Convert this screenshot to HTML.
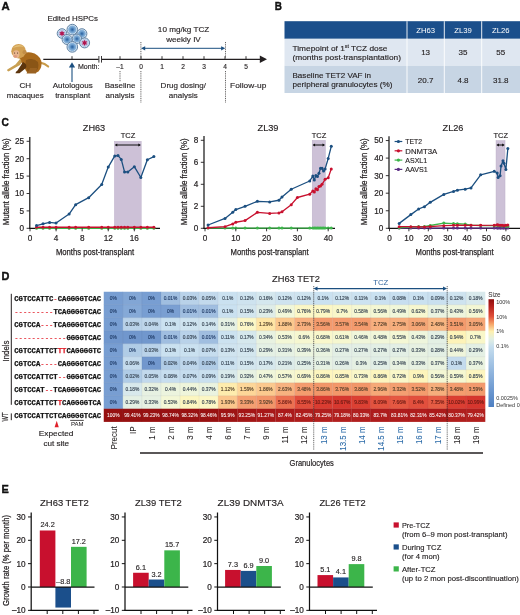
<!DOCTYPE html>
<html lang="en">
<head>
<meta charset="utf-8">
<title>TCZ in CH macaques</title>
<style>
html,body{margin:0;padding:0;background:#fff;}
body{width:520px;height:615px;overflow:hidden;}
svg{display:block;font-family:"Liberation Sans", sans-serif;}
.tw{fill:#fff;stroke:#fff;stroke-width:0.05px}
.tr{fill:#6a1a14;stroke:#6a1a14}
.to{fill:#4e3c28;stroke:#4e3c28}
.tg{fill:#33404f;stroke:#33404f}
.tb{fill:#1f3a66;stroke:#1f3a66}
</style>
</head>
<body>
<svg width="520" height="615" viewBox="0 0 520 615">
<rect width="520" height="615" fill="#fff"/>
<g id="panel-a">
<text x="1.60" y="10.10" font-size="11.4" fill="#111" stroke="#111" stroke-width="0.4" font-weight="bold" textLength="8.2" lengthAdjust="spacingAndGlyphs" >A</text>
<text x="72.70" y="21.30" font-size="8" fill="#231f20" stroke="#231f20" stroke-width="0.14" text-anchor="middle" textLength="50.5" lengthAdjust="spacingAndGlyphs" >Edited HSPCs</text>
<defs>
<radialGradient id="cg"><stop offset="0" stop-color="#2d5f98"/><stop offset="0.2" stop-color="#4279b3"/><stop offset="0.45" stop-color="#6fa0cf"/><stop offset="0.7" stop-color="#8ab4db"/><stop offset="0.82" stop-color="#c9deef"/><stop offset="1" stop-color="#d3e4f2"/></radialGradient>
<radialGradient id="cm"><stop offset="0" stop-color="#c9a0c0"/><stop offset="0.5" stop-color="#c4bcdc"/><stop offset="0.75" stop-color="#b4cfea"/><stop offset="0.85" stop-color="#d3e4f2"/><stop offset="1" stop-color="#d3e4f2"/></radialGradient>
<filter id="soft" x="-10%" y="-10%" width="120%" height="120%"><feGaussianBlur stdDeviation="0.35"/></filter>
</defs>
<g filter="url(#soft)">
<circle cx="72.3" cy="29.6" r="5.3" fill="url(#cg)" stroke="#55779b" stroke-width="0.9"/>
<circle cx="62" cy="33.5" r="4.8" fill="url(#cm)" stroke="#55779b" stroke-width="0.9"/>
<polygon points="62.00,30.40 62.75,32.20 64.68,31.95 63.50,33.50 64.68,35.05 62.75,34.80 62.00,36.60 61.25,34.80 59.32,35.05 60.50,33.50 59.32,31.95 61.25,32.20" fill="#b0124e" />
<circle cx="81.9" cy="33.7" r="5" fill="url(#cg)" stroke="#55779b" stroke-width="0.9"/>
<circle cx="67.1" cy="39.5" r="5" fill="url(#cg)" stroke="#55779b" stroke-width="0.9"/>
<circle cx="76.9" cy="38.8" r="4.7" fill="url(#cg)" stroke="#55779b" stroke-width="0.9"/>
<circle cx="84.6" cy="42.9" r="5" fill="url(#cm)" stroke="#55779b" stroke-width="0.9"/>
<polygon points="84.60,39.80 85.35,41.60 87.28,41.35 86.10,42.90 87.28,44.45 85.35,44.20 84.60,46.00 83.85,44.20 81.92,44.45 83.10,42.90 81.92,41.35 83.85,41.60" fill="#b0124e" />
<circle cx="72.3" cy="46.9" r="5.3" fill="url(#cg)" stroke="#55779b" stroke-width="0.9"/>
</g>
<g id="monkey" filter="url(#soft)">
<path d="M40 62.6 Q45 63.6 48.2 66.6" fill="none" stroke="#c89a48" stroke-width="2" stroke-linecap="round"/>
<path d="M19 56 Q24 51.5 31 52.5 Q39 54 41.3 61 Q42.5 67 38.5 71.5 L35.5 73 L27.5 73 Q25 70 24 66 Q20 62 19 56Z" fill="#a96a1f"/>
<path d="M26 60 Q33 57 38 62 Q39.5 68 35.5 72.6 L28 72.8 Q24.5 66 26 60Z" fill="#8a5418"/>
<path d="M20.5 58.5 Q22.5 62.5 20 65 L8.5 71.4 Q6.5 71.4 7.3 69.6 L15.5 64.5 Z" fill="#c9a052"/>
<path d="M23 62 Q27.5 64 26 68 L19.5 73.3 L15.5 73.3 Q15.5 71.5 17.5 70.5 Z" fill="#5c3610"/>
<path d="M30 68 L37 68 L36 73.4 L26.5 73.4 Q27 71.5 29 71Z" fill="#9a6222"/>
<circle cx="18.6" cy="51.2" r="7.3" fill="#d2a052"/>
<path d="M12.5 48 Q18 42.5 24.5 47 Q19 45.5 12.5 48Z" fill="#e2bf78"/>
<circle cx="24.6" cy="52.2" r="2.1" fill="#c28e48"/>
<ellipse cx="16.2" cy="54.2" rx="3.3" ry="3.9" fill="#e8b58e"/>
<ellipse cx="15.4" cy="56.3" rx="1.6" ry="1.2" fill="#dc9a80"/>
<circle cx="14.6" cy="53" r="0.55" fill="#3b2410"/>
<circle cx="17.6" cy="53" r="0.55" fill="#3b2410"/>
</g>
<line x1="43.30" y1="59.30" x2="261.00" y2="59.30" stroke="#231f20" stroke-width="1.3" />
<polygon points="259.80,55.60 267.00,59.30 259.80,63.00" fill="#231f20" />
<rect x="98.60" y="55.50" width="3.20" height="7.60" fill="#fff" />
<line x1="98.90" y1="56.00" x2="98.90" y2="62.60" stroke="#231f20" stroke-width="0.9" />
<line x1="101.50" y1="56.00" x2="101.50" y2="62.60" stroke="#231f20" stroke-width="0.9" />
<line x1="72.00" y1="56.20" x2="72.00" y2="59.30" stroke="#231f20" stroke-width="0.9" />
<line x1="120.00" y1="56.20" x2="120.00" y2="59.30" stroke="#231f20" stroke-width="0.9" />
<line x1="141.00" y1="56.20" x2="141.00" y2="59.30" stroke="#231f20" stroke-width="0.9" />
<line x1="162.00" y1="56.20" x2="162.00" y2="59.30" stroke="#231f20" stroke-width="0.9" />
<line x1="183.00" y1="56.20" x2="183.00" y2="59.30" stroke="#231f20" stroke-width="0.9" />
<line x1="204.00" y1="56.20" x2="204.00" y2="59.30" stroke="#231f20" stroke-width="0.9" />
<line x1="225.00" y1="56.20" x2="225.00" y2="59.30" stroke="#231f20" stroke-width="0.9" />
<line x1="246.00" y1="56.20" x2="246.00" y2="59.30" stroke="#231f20" stroke-width="0.9" />
<text x="120.00" y="69.30" font-size="6.6" fill="#231f20" stroke="#231f20" stroke-width="0.14" text-anchor="middle" >–1</text>
<text x="141.00" y="69.30" font-size="6.6" fill="#231f20" stroke="#231f20" stroke-width="0.14" text-anchor="middle" >0</text>
<text x="162.00" y="69.30" font-size="6.6" fill="#231f20" stroke="#231f20" stroke-width="0.14" text-anchor="middle" >1</text>
<text x="183.00" y="69.30" font-size="6.6" fill="#231f20" stroke="#231f20" stroke-width="0.14" text-anchor="middle" >2</text>
<text x="204.00" y="69.30" font-size="6.6" fill="#231f20" stroke="#231f20" stroke-width="0.14" text-anchor="middle" >3</text>
<text x="225.00" y="69.30" font-size="6.6" fill="#231f20" stroke="#231f20" stroke-width="0.14" text-anchor="middle" >4</text>
<text x="246.00" y="69.30" font-size="6.6" fill="#231f20" stroke="#231f20" stroke-width="0.14" text-anchor="middle" >5</text>
<text x="78.00" y="69.30" font-size="6.6" fill="#231f20" stroke="#231f20" stroke-width="0.14" textLength="21.5" lengthAdjust="spacingAndGlyphs" >Month:</text>
<line x1="120.00" y1="71.00" x2="120.00" y2="82.00" stroke="#231f20" stroke-width="0.7" stroke-dasharray="1 0.8"/>
<line x1="140.90" y1="42.00" x2="140.90" y2="57.50" stroke="#231f20" stroke-width="0.7" stroke-dasharray="1 0.8"/>
<line x1="140.90" y1="71.00" x2="140.90" y2="102.50" stroke="#231f20" stroke-width="0.7" stroke-dasharray="1 0.8"/>
<line x1="225.50" y1="42.00" x2="225.50" y2="57.50" stroke="#231f20" stroke-width="0.7" stroke-dasharray="1 0.8"/>
<line x1="225.50" y1="71.00" x2="225.50" y2="102.50" stroke="#231f20" stroke-width="0.7" stroke-dasharray="1 0.8"/>
<line x1="72.00" y1="82.00" x2="72.00" y2="66.50" stroke="#1b4f80" stroke-width="1.1" />
<polygon points="68.90,67.50 72.00,62.30 75.10,67.50" fill="#1b4f80" />
<line x1="143.50" y1="48.30" x2="223.00" y2="48.30" stroke="#1b4f80" stroke-width="1.0" />
<polygon points="141.00,48.30 145.20,46.20 145.20,50.40" fill="#1b4f80" />
<polygon points="225.30,48.30 221.10,46.20 221.10,50.40" fill="#1b4f80" />
<text x="183.60" y="32.00" font-size="8" fill="#231f20" stroke="#231f20" stroke-width="0.14" text-anchor="middle" textLength="51.5" lengthAdjust="spacingAndGlyphs" >10 mg/kg TCZ</text>
<text x="183.50" y="41.80" font-size="8" fill="#231f20" stroke="#231f20" stroke-width="0.14" text-anchor="middle" textLength="34.5" lengthAdjust="spacingAndGlyphs" >weekly IV</text>
<text x="25.30" y="88.20" font-size="8" fill="#231f20" stroke="#231f20" stroke-width="0.14" text-anchor="middle" >CH</text>
<text x="25.30" y="98.00" font-size="8" fill="#231f20" stroke="#231f20" stroke-width="0.14" text-anchor="middle" >macaques</text>
<text x="72.70" y="88.20" font-size="8" fill="#231f20" stroke="#231f20" stroke-width="0.14" text-anchor="middle" >Autologous</text>
<text x="72.70" y="98.00" font-size="8" fill="#231f20" stroke="#231f20" stroke-width="0.14" text-anchor="middle" >transplant</text>
<text x="120.00" y="88.20" font-size="8" fill="#231f20" stroke="#231f20" stroke-width="0.14" text-anchor="middle" >Baseline</text>
<text x="120.00" y="98.00" font-size="8" fill="#231f20" stroke="#231f20" stroke-width="0.14" text-anchor="middle" >analysis</text>
<text x="183.30" y="88.20" font-size="8" fill="#231f20" stroke="#231f20" stroke-width="0.14" text-anchor="middle" >Drug dosing/</text>
<text x="183.30" y="98.00" font-size="8" fill="#231f20" stroke="#231f20" stroke-width="0.14" text-anchor="middle" >analysis</text>
<text x="248.20" y="88.20" font-size="8" fill="#231f20" stroke="#231f20" stroke-width="0.14" text-anchor="middle" textLength="36.2" lengthAdjust="spacingAndGlyphs" >Follow-up</text>
</g>
<g id="panel-b">
<text x="274.80" y="10.10" font-size="11.4" fill="#111" stroke="#111" stroke-width="0.4" font-weight="bold" textLength="7.2" lengthAdjust="spacingAndGlyphs" >B</text>
<rect x="284.50" y="21.20" width="235.50" height="17.60" fill="#1b4f8b" />
<rect x="284.50" y="38.80" width="235.50" height="27.00" fill="#dfe7f1" />
<rect x="284.50" y="65.80" width="235.50" height="27.20" fill="#c7d5e4" />
<line x1="407.00" y1="21.20" x2="407.00" y2="93.00" stroke="#fff" stroke-width="0.9" />
<line x1="444.30" y1="21.20" x2="444.30" y2="93.00" stroke="#fff" stroke-width="0.9" />
<line x1="481.70" y1="21.20" x2="481.70" y2="93.00" stroke="#fff" stroke-width="0.9" />
<text x="425.60" y="32.70" font-size="7.7" fill="#fff" text-anchor="middle" >ZH63</text>
<text x="425.60" y="55.20" font-size="8" fill="#231f20" stroke="#231f20" stroke-width="0.14" text-anchor="middle" >13</text>
<text x="425.60" y="82.70" font-size="8" fill="#231f20" stroke="#231f20" stroke-width="0.14" text-anchor="middle" >20.7</text>
<text x="463.00" y="32.70" font-size="7.7" fill="#fff" text-anchor="middle" >ZL39</text>
<text x="463.00" y="55.20" font-size="8" fill="#231f20" stroke="#231f20" stroke-width="0.14" text-anchor="middle" >35</text>
<text x="463.00" y="82.70" font-size="8" fill="#231f20" stroke="#231f20" stroke-width="0.14" text-anchor="middle" >4.8</text>
<text x="500.80" y="32.70" font-size="7.7" fill="#fff" text-anchor="middle" >ZL26</text>
<text x="500.80" y="55.20" font-size="8" fill="#231f20" stroke="#231f20" stroke-width="0.14" text-anchor="middle" >55</text>
<text x="500.80" y="82.70" font-size="8" fill="#231f20" stroke="#231f20" stroke-width="0.14" text-anchor="middle" >31.8</text>
<text x="292.5" y="50.6" font-size="8" fill="#231f20" stroke="#231f20" stroke-width="0.14" textLength="95" lengthAdjust="spacingAndGlyphs">Timepoint of 1<tspan font-size="5" dy="-2.8">st</tspan><tspan dy="2.8"> TCZ dose</tspan></text>
<text x="292.50" y="60.00" font-size="8" fill="#231f20" stroke="#231f20" stroke-width="0.14" textLength="108.5" lengthAdjust="spacingAndGlyphs" >(months post-transplantation)</text>
<text x="292.50" y="77.60" font-size="8" fill="#231f20" stroke="#231f20" stroke-width="0.14" textLength="78.5" lengthAdjust="spacingAndGlyphs" >Baseline TET2 VAF in</text>
<text x="292.50" y="87.00" font-size="8" fill="#231f20" stroke="#231f20" stroke-width="0.14" textLength="100" lengthAdjust="spacingAndGlyphs" >peripheral granulocytes (%)</text>
</g>
<g id="panel-c">
<text x="1.60" y="126.20" font-size="11.4" fill="#111" stroke="#111" stroke-width="0.4" font-weight="bold" textLength="7.4" lengthAdjust="spacingAndGlyphs" >C</text>
<rect x="114.37" y="141.30" width="26.86" height="87.00" fill="#cdc1d7" stroke="#b9abc6" stroke-width="0.4"/>
<line x1="29.80" y1="137.00" x2="29.80" y2="228.90" stroke="#111" stroke-width="1.2" />
<line x1="29.20" y1="228.30" x2="160.00" y2="228.30" stroke="#111" stroke-width="1.2" />
<polyline points="36.52,228.30 43.04,228.30 49.56,228.30 56.08,228.30 69.12,228.30 75.64,228.30 88.68,228.30 101.72,228.30 108.24,228.30 114.76,228.30 118.02,228.30 121.28,228.30 124.54,228.30 127.80,228.30 134.32,228.30 140.84,228.30 147.36,228.30 153.88,228.30" fill="none" stroke="#3cb54a" stroke-width="1.3" stroke-linejoin="round"/>
<circle cx="36.52" cy="228.30" r="1.5" fill="#3cb54a"/>
<circle cx="43.04" cy="228.30" r="1.5" fill="#3cb54a"/>
<circle cx="49.56" cy="228.30" r="1.5" fill="#3cb54a"/>
<circle cx="56.08" cy="228.30" r="1.5" fill="#3cb54a"/>
<circle cx="69.12" cy="228.30" r="1.5" fill="#3cb54a"/>
<circle cx="75.64" cy="228.30" r="1.5" fill="#3cb54a"/>
<circle cx="88.68" cy="228.30" r="1.5" fill="#3cb54a"/>
<circle cx="101.72" cy="228.30" r="1.5" fill="#3cb54a"/>
<circle cx="108.24" cy="228.30" r="1.5" fill="#3cb54a"/>
<circle cx="114.76" cy="228.30" r="1.5" fill="#3cb54a"/>
<circle cx="118.02" cy="228.30" r="1.5" fill="#3cb54a"/>
<circle cx="121.28" cy="228.30" r="1.5" fill="#3cb54a"/>
<circle cx="124.54" cy="228.30" r="1.5" fill="#3cb54a"/>
<circle cx="127.80" cy="228.30" r="1.5" fill="#3cb54a"/>
<circle cx="134.32" cy="228.30" r="1.5" fill="#3cb54a"/>
<circle cx="140.84" cy="228.30" r="1.5" fill="#3cb54a"/>
<circle cx="147.36" cy="228.30" r="1.5" fill="#3cb54a"/>
<circle cx="153.88" cy="228.30" r="1.5" fill="#3cb54a"/>
<polyline points="36.52,227.26 43.04,227.26 49.56,227.26 56.08,227.26 69.12,227.26 75.64,227.26 88.68,227.26 101.72,227.26 108.24,227.26 114.76,227.26 118.02,227.26 121.28,227.26 124.54,227.26 127.80,227.26 134.32,227.26 140.84,227.26 147.36,227.26 153.88,227.26" fill="none" stroke="#c8102e" stroke-width="1.3" stroke-linejoin="round"/>
<circle cx="36.52" cy="227.26" r="1.5" fill="#c8102e"/>
<circle cx="43.04" cy="227.26" r="1.5" fill="#c8102e"/>
<circle cx="49.56" cy="227.26" r="1.5" fill="#c8102e"/>
<circle cx="56.08" cy="227.26" r="1.5" fill="#c8102e"/>
<circle cx="69.12" cy="227.26" r="1.5" fill="#c8102e"/>
<circle cx="75.64" cy="227.26" r="1.5" fill="#c8102e"/>
<circle cx="88.68" cy="227.26" r="1.5" fill="#c8102e"/>
<circle cx="101.72" cy="227.26" r="1.5" fill="#c8102e"/>
<circle cx="108.24" cy="227.26" r="1.5" fill="#c8102e"/>
<circle cx="114.76" cy="227.26" r="1.5" fill="#c8102e"/>
<circle cx="118.02" cy="227.26" r="1.5" fill="#c8102e"/>
<circle cx="121.28" cy="227.26" r="1.5" fill="#c8102e"/>
<circle cx="124.54" cy="227.26" r="1.5" fill="#c8102e"/>
<circle cx="127.80" cy="227.26" r="1.5" fill="#c8102e"/>
<circle cx="134.32" cy="227.26" r="1.5" fill="#c8102e"/>
<circle cx="140.84" cy="227.26" r="1.5" fill="#c8102e"/>
<circle cx="147.36" cy="227.26" r="1.5" fill="#c8102e"/>
<circle cx="153.88" cy="227.26" r="1.5" fill="#c8102e"/>
<polyline points="36.52,225.52 43.04,223.78 49.56,222.38 56.08,223.08 69.12,214.03 75.64,204.64 88.68,197.68 101.72,184.45 108.24,167.05 114.76,155.92 118.02,155.57 121.28,159.40 124.54,171.92 127.80,171.92 134.32,166.70 140.84,177.49 147.36,159.74 153.88,156.61" fill="none" stroke="#1b4f80" stroke-width="1.3" stroke-linejoin="round"/>
<circle cx="36.52" cy="225.52" r="1.5" fill="#1b4f80"/>
<circle cx="43.04" cy="223.78" r="1.5" fill="#1b4f80"/>
<circle cx="49.56" cy="222.38" r="1.5" fill="#1b4f80"/>
<circle cx="56.08" cy="223.08" r="1.5" fill="#1b4f80"/>
<circle cx="69.12" cy="214.03" r="1.5" fill="#1b4f80"/>
<circle cx="75.64" cy="204.64" r="1.5" fill="#1b4f80"/>
<circle cx="88.68" cy="197.68" r="1.5" fill="#1b4f80"/>
<circle cx="101.72" cy="184.45" r="1.5" fill="#1b4f80"/>
<circle cx="108.24" cy="167.05" r="1.5" fill="#1b4f80"/>
<circle cx="114.76" cy="155.92" r="1.5" fill="#1b4f80"/>
<circle cx="118.02" cy="155.57" r="1.5" fill="#1b4f80"/>
<circle cx="121.28" cy="159.40" r="1.5" fill="#1b4f80"/>
<circle cx="124.54" cy="171.92" r="1.5" fill="#1b4f80"/>
<circle cx="127.80" cy="171.92" r="1.5" fill="#1b4f80"/>
<circle cx="134.32" cy="166.70" r="1.5" fill="#1b4f80"/>
<circle cx="140.84" cy="177.49" r="1.5" fill="#1b4f80"/>
<circle cx="147.36" cy="159.74" r="1.5" fill="#1b4f80"/>
<circle cx="153.88" cy="156.61" r="1.5" fill="#1b4f80"/>
<line x1="26.60" y1="228.30" x2="29.80" y2="228.30" stroke="#231f20" stroke-width="0.9" />
<text x="24.10" y="231.20" font-size="8.2" fill="#231f20" stroke="#231f20" stroke-width="0.2" text-anchor="end" >0</text>
<line x1="26.60" y1="210.90" x2="29.80" y2="210.90" stroke="#231f20" stroke-width="0.9" />
<text x="24.10" y="213.80" font-size="8.2" fill="#231f20" stroke="#231f20" stroke-width="0.2" text-anchor="end" >5</text>
<line x1="26.60" y1="193.50" x2="29.80" y2="193.50" stroke="#231f20" stroke-width="0.9" />
<text x="24.10" y="196.40" font-size="8.2" fill="#231f20" stroke="#231f20" stroke-width="0.2" text-anchor="end" >10</text>
<line x1="26.60" y1="176.10" x2="29.80" y2="176.10" stroke="#231f20" stroke-width="0.9" />
<text x="24.10" y="179.00" font-size="8.2" fill="#231f20" stroke="#231f20" stroke-width="0.2" text-anchor="end" >15</text>
<line x1="26.60" y1="158.70" x2="29.80" y2="158.70" stroke="#231f20" stroke-width="0.9" />
<text x="24.10" y="161.60" font-size="8.2" fill="#231f20" stroke="#231f20" stroke-width="0.2" text-anchor="end" >20</text>
<line x1="26.60" y1="141.30" x2="29.80" y2="141.30" stroke="#231f20" stroke-width="0.9" />
<text x="24.10" y="144.20" font-size="8.2" fill="#231f20" stroke="#231f20" stroke-width="0.2" text-anchor="end" >25</text>
<line x1="30.00" y1="228.30" x2="30.00" y2="231.30" stroke="#231f20" stroke-width="0.9" />
<text x="30.00" y="240.70" font-size="8.2" fill="#231f20" stroke="#231f20" stroke-width="0.2" text-anchor="middle" >0</text>
<line x1="56.08" y1="228.30" x2="56.08" y2="231.30" stroke="#231f20" stroke-width="0.9" />
<text x="56.08" y="240.70" font-size="8.2" fill="#231f20" stroke="#231f20" stroke-width="0.2" text-anchor="middle" >4</text>
<line x1="82.16" y1="228.30" x2="82.16" y2="231.30" stroke="#231f20" stroke-width="0.9" />
<text x="82.16" y="240.70" font-size="8.2" fill="#231f20" stroke="#231f20" stroke-width="0.2" text-anchor="middle" >8</text>
<line x1="108.24" y1="228.30" x2="108.24" y2="231.30" stroke="#231f20" stroke-width="0.9" />
<text x="108.24" y="240.70" font-size="8.2" fill="#231f20" stroke="#231f20" stroke-width="0.2" text-anchor="middle" >12</text>
<line x1="134.32" y1="228.30" x2="134.32" y2="231.30" stroke="#231f20" stroke-width="0.9" />
<text x="134.32" y="240.70" font-size="8.2" fill="#231f20" stroke="#231f20" stroke-width="0.2" text-anchor="middle" >16</text>
<text x="94.00" y="131.30" font-size="9.2" fill="#231f20" stroke="#231f20" stroke-width="0.14" text-anchor="middle" >ZH63</text>
<text x="128.00" y="137.70" font-size="7.5" fill="#231f20" stroke="#231f20" stroke-width="0.14" text-anchor="middle" >TCZ</text>
<line x1="115.87" y1="145.00" x2="139.73" y2="145.00" stroke="#111" stroke-width="1.0" />
<polygon points="114.67,145.00 117.27,143.40 117.27,146.60" fill="#111" />
<polygon points="140.93,145.00 138.33,143.40 138.33,146.60" fill="#111" />
<text transform="translate(8.90 181.80) rotate(-90)" font-size="9.8" fill="#231f20" stroke="#231f20" stroke-width="0.25" text-anchor="middle" textLength="87" lengthAdjust="spacingAndGlyphs" >Mutant allele fraction (%)</text>
<text x="95.00" y="254.60" font-size="9.8" fill="#231f20" stroke="#231f20" stroke-width="0.25" text-anchor="middle" textLength="78.2" lengthAdjust="spacingAndGlyphs" >Months post-transplant</text>
<rect x="312.18" y="140.30" width="13.24" height="88.00" fill="#cdc1d7" stroke="#b9abc6" stroke-width="0.4"/>
<line x1="204.00" y1="136.00" x2="204.00" y2="228.90" stroke="#111" stroke-width="1.2" />
<line x1="203.40" y1="228.30" x2="335.00" y2="228.30" stroke="#111" stroke-width="1.2" />
<polyline points="208.08,228.08 225.02,228.08 232.72,228.08 235.80,228.08 245.04,228.08 257.36,228.08 269.68,228.08 278.92,228.08 282.00,228.08 291.24,228.08 309.72,228.08 312.80,228.08 314.34,228.08 315.88,228.08 317.42,228.08 318.96,228.08 320.50,228.08 322.04,228.08 323.58,228.08 325.12,228.08 328.20,228.08 331.28,228.08" fill="none" stroke="#3cb54a" stroke-width="1.3" stroke-linejoin="round"/>
<circle cx="208.08" cy="228.08" r="1.5" fill="#3cb54a"/>
<circle cx="225.02" cy="228.08" r="1.5" fill="#3cb54a"/>
<circle cx="232.72" cy="228.08" r="1.5" fill="#3cb54a"/>
<circle cx="235.80" cy="228.08" r="1.5" fill="#3cb54a"/>
<circle cx="245.04" cy="228.08" r="1.5" fill="#3cb54a"/>
<circle cx="257.36" cy="228.08" r="1.5" fill="#3cb54a"/>
<circle cx="269.68" cy="228.08" r="1.5" fill="#3cb54a"/>
<circle cx="278.92" cy="228.08" r="1.5" fill="#3cb54a"/>
<circle cx="282.00" cy="228.08" r="1.5" fill="#3cb54a"/>
<circle cx="291.24" cy="228.08" r="1.5" fill="#3cb54a"/>
<circle cx="309.72" cy="228.08" r="1.5" fill="#3cb54a"/>
<circle cx="312.80" cy="228.08" r="1.5" fill="#3cb54a"/>
<circle cx="314.34" cy="228.08" r="1.5" fill="#3cb54a"/>
<circle cx="315.88" cy="228.08" r="1.5" fill="#3cb54a"/>
<circle cx="317.42" cy="228.08" r="1.5" fill="#3cb54a"/>
<circle cx="318.96" cy="228.08" r="1.5" fill="#3cb54a"/>
<circle cx="320.50" cy="228.08" r="1.5" fill="#3cb54a"/>
<circle cx="322.04" cy="228.08" r="1.5" fill="#3cb54a"/>
<circle cx="323.58" cy="228.08" r="1.5" fill="#3cb54a"/>
<circle cx="325.12" cy="228.08" r="1.5" fill="#3cb54a"/>
<circle cx="328.20" cy="228.08" r="1.5" fill="#3cb54a"/>
<circle cx="331.28" cy="228.08" r="1.5" fill="#3cb54a"/>
<polyline points="208.08,227.75 225.02,226.65 232.72,223.90 235.80,222.25 245.04,220.60 257.36,212.35 269.68,213.45 278.92,212.90 282.00,211.80 291.24,204.65 297.40,197.50 309.72,194.20 312.80,190.90 314.34,192.00 315.88,188.70 317.42,189.80 318.96,186.50 320.50,185.95 322.04,184.30 325.12,179.35 328.20,177.70 331.28,168.90" fill="none" stroke="#c8102e" stroke-width="1.3" stroke-linejoin="round"/>
<circle cx="208.08" cy="227.75" r="1.5" fill="#c8102e"/>
<circle cx="225.02" cy="226.65" r="1.5" fill="#c8102e"/>
<circle cx="232.72" cy="223.90" r="1.5" fill="#c8102e"/>
<circle cx="235.80" cy="222.25" r="1.5" fill="#c8102e"/>
<circle cx="245.04" cy="220.60" r="1.5" fill="#c8102e"/>
<circle cx="257.36" cy="212.35" r="1.5" fill="#c8102e"/>
<circle cx="269.68" cy="213.45" r="1.5" fill="#c8102e"/>
<circle cx="278.92" cy="212.90" r="1.5" fill="#c8102e"/>
<circle cx="282.00" cy="211.80" r="1.5" fill="#c8102e"/>
<circle cx="291.24" cy="204.65" r="1.5" fill="#c8102e"/>
<circle cx="297.40" cy="197.50" r="1.5" fill="#c8102e"/>
<circle cx="309.72" cy="194.20" r="1.5" fill="#c8102e"/>
<circle cx="312.80" cy="190.90" r="1.5" fill="#c8102e"/>
<circle cx="314.34" cy="192.00" r="1.5" fill="#c8102e"/>
<circle cx="315.88" cy="188.70" r="1.5" fill="#c8102e"/>
<circle cx="317.42" cy="189.80" r="1.5" fill="#c8102e"/>
<circle cx="318.96" cy="186.50" r="1.5" fill="#c8102e"/>
<circle cx="320.50" cy="185.95" r="1.5" fill="#c8102e"/>
<circle cx="322.04" cy="184.30" r="1.5" fill="#c8102e"/>
<circle cx="325.12" cy="179.35" r="1.5" fill="#c8102e"/>
<circle cx="328.20" cy="177.70" r="1.5" fill="#c8102e"/>
<circle cx="331.28" cy="168.90" r="1.5" fill="#c8102e"/>
<polyline points="208.08,225.00 225.02,218.40 232.72,212.35 235.80,209.60 245.04,206.30 257.36,201.35 269.68,201.90 278.92,200.25 282.00,196.95 291.24,189.25 309.72,181.00 312.80,176.05 314.34,179.90 315.88,175.50 317.42,176.60 318.96,173.30 320.50,168.35 322.04,168.35 323.58,171.10 325.12,168.90 328.20,158.45 331.28,146.35" fill="none" stroke="#1b4f80" stroke-width="1.3" stroke-linejoin="round"/>
<circle cx="208.08" cy="225.00" r="1.5" fill="#1b4f80"/>
<circle cx="225.02" cy="218.40" r="1.5" fill="#1b4f80"/>
<circle cx="232.72" cy="212.35" r="1.5" fill="#1b4f80"/>
<circle cx="235.80" cy="209.60" r="1.5" fill="#1b4f80"/>
<circle cx="245.04" cy="206.30" r="1.5" fill="#1b4f80"/>
<circle cx="257.36" cy="201.35" r="1.5" fill="#1b4f80"/>
<circle cx="269.68" cy="201.90" r="1.5" fill="#1b4f80"/>
<circle cx="278.92" cy="200.25" r="1.5" fill="#1b4f80"/>
<circle cx="282.00" cy="196.95" r="1.5" fill="#1b4f80"/>
<circle cx="291.24" cy="189.25" r="1.5" fill="#1b4f80"/>
<circle cx="309.72" cy="181.00" r="1.5" fill="#1b4f80"/>
<circle cx="312.80" cy="176.05" r="1.5" fill="#1b4f80"/>
<circle cx="314.34" cy="179.90" r="1.5" fill="#1b4f80"/>
<circle cx="315.88" cy="175.50" r="1.5" fill="#1b4f80"/>
<circle cx="317.42" cy="176.60" r="1.5" fill="#1b4f80"/>
<circle cx="318.96" cy="173.30" r="1.5" fill="#1b4f80"/>
<circle cx="320.50" cy="168.35" r="1.5" fill="#1b4f80"/>
<circle cx="322.04" cy="168.35" r="1.5" fill="#1b4f80"/>
<circle cx="323.58" cy="171.10" r="1.5" fill="#1b4f80"/>
<circle cx="325.12" cy="168.90" r="1.5" fill="#1b4f80"/>
<circle cx="328.20" cy="158.45" r="1.5" fill="#1b4f80"/>
<circle cx="331.28" cy="146.35" r="1.5" fill="#1b4f80"/>
<line x1="200.80" y1="228.30" x2="204.00" y2="228.30" stroke="#231f20" stroke-width="0.9" />
<text x="198.30" y="231.20" font-size="8.2" fill="#231f20" stroke="#231f20" stroke-width="0.2" text-anchor="end" >0</text>
<line x1="200.80" y1="206.30" x2="204.00" y2="206.30" stroke="#231f20" stroke-width="0.9" />
<text x="198.30" y="209.20" font-size="8.2" fill="#231f20" stroke="#231f20" stroke-width="0.2" text-anchor="end" >2</text>
<line x1="200.80" y1="184.30" x2="204.00" y2="184.30" stroke="#231f20" stroke-width="0.9" />
<text x="198.30" y="187.20" font-size="8.2" fill="#231f20" stroke="#231f20" stroke-width="0.2" text-anchor="end" >4</text>
<line x1="200.80" y1="162.30" x2="204.00" y2="162.30" stroke="#231f20" stroke-width="0.9" />
<text x="198.30" y="165.20" font-size="8.2" fill="#231f20" stroke="#231f20" stroke-width="0.2" text-anchor="end" >6</text>
<line x1="200.80" y1="140.30" x2="204.00" y2="140.30" stroke="#231f20" stroke-width="0.9" />
<text x="198.30" y="143.20" font-size="8.2" fill="#231f20" stroke="#231f20" stroke-width="0.2" text-anchor="end" >8</text>
<line x1="205.00" y1="228.30" x2="205.00" y2="231.30" stroke="#231f20" stroke-width="0.9" />
<text x="205.00" y="240.70" font-size="8.2" fill="#231f20" stroke="#231f20" stroke-width="0.2" text-anchor="middle" >0</text>
<line x1="235.80" y1="228.30" x2="235.80" y2="231.30" stroke="#231f20" stroke-width="0.9" />
<text x="235.80" y="240.70" font-size="8.2" fill="#231f20" stroke="#231f20" stroke-width="0.2" text-anchor="middle" >10</text>
<line x1="266.60" y1="228.30" x2="266.60" y2="231.30" stroke="#231f20" stroke-width="0.9" />
<text x="266.60" y="240.70" font-size="8.2" fill="#231f20" stroke="#231f20" stroke-width="0.2" text-anchor="middle" >20</text>
<line x1="297.40" y1="228.30" x2="297.40" y2="231.30" stroke="#231f20" stroke-width="0.9" />
<text x="297.40" y="240.70" font-size="8.2" fill="#231f20" stroke="#231f20" stroke-width="0.2" text-anchor="middle" >30</text>
<line x1="328.20" y1="228.30" x2="328.20" y2="231.30" stroke="#231f20" stroke-width="0.9" />
<text x="328.20" y="240.70" font-size="8.2" fill="#231f20" stroke="#231f20" stroke-width="0.2" text-anchor="middle" >40</text>
<text x="268.00" y="131.30" font-size="9.2" fill="#231f20" stroke="#231f20" stroke-width="0.14" text-anchor="middle" >ZL39</text>
<text x="319.00" y="137.70" font-size="7.5" fill="#231f20" stroke="#231f20" stroke-width="0.14" text-anchor="middle" >TCZ</text>
<line x1="313.68" y1="145.00" x2="323.93" y2="145.00" stroke="#111" stroke-width="1.0" />
<polygon points="312.48,145.00 315.08,143.40 315.08,146.60" fill="#111" />
<polygon points="325.13,145.00 322.53,143.40 322.53,146.60" fill="#111" />
<text transform="translate(186.80 181.80) rotate(-90)" font-size="9.8" fill="#231f20" stroke="#231f20" stroke-width="0.25" text-anchor="middle" textLength="87" lengthAdjust="spacingAndGlyphs" >Mutant allele fraction (%)</text>
<text x="269.60" y="254.60" font-size="9.8" fill="#231f20" stroke="#231f20" stroke-width="0.25" text-anchor="middle" textLength="78.2" lengthAdjust="spacingAndGlyphs" >Months post-transplant</text>
<rect x="496.01" y="140.55" width="9.02" height="87.75" fill="#cdc1d7" stroke="#b9abc6" stroke-width="0.4"/>
<line x1="389.00" y1="136.25" x2="389.00" y2="228.90" stroke="#111" stroke-width="1.2" />
<line x1="388.40" y1="228.30" x2="520.00" y2="228.30" stroke="#111" stroke-width="1.2" />
<polyline points="399.20,228.12 410.84,228.12 418.60,228.12 424.42,228.12 430.24,228.12 443.82,228.12 453.52,228.12 457.40,228.12 465.16,228.12 470.98,228.12 480.68,228.12 494.26,228.12 497.17,228.12 498.14,228.12 500.08,228.12 501.05,228.12 502.99,228.12 503.96,228.12 505.90,228.12 507.84,228.12" fill="none" stroke="#5b2c83" stroke-width="1.3" stroke-linejoin="round"/>
<circle cx="399.20" cy="228.12" r="1.5" fill="#5b2c83"/>
<circle cx="410.84" cy="228.12" r="1.5" fill="#5b2c83"/>
<circle cx="418.60" cy="228.12" r="1.5" fill="#5b2c83"/>
<circle cx="424.42" cy="228.12" r="1.5" fill="#5b2c83"/>
<circle cx="430.24" cy="228.12" r="1.5" fill="#5b2c83"/>
<circle cx="443.82" cy="228.12" r="1.5" fill="#5b2c83"/>
<circle cx="453.52" cy="228.12" r="1.5" fill="#5b2c83"/>
<circle cx="457.40" cy="228.12" r="1.5" fill="#5b2c83"/>
<circle cx="465.16" cy="228.12" r="1.5" fill="#5b2c83"/>
<circle cx="470.98" cy="228.12" r="1.5" fill="#5b2c83"/>
<circle cx="480.68" cy="228.12" r="1.5" fill="#5b2c83"/>
<circle cx="494.26" cy="228.12" r="1.5" fill="#5b2c83"/>
<circle cx="497.17" cy="228.12" r="1.5" fill="#5b2c83"/>
<circle cx="498.14" cy="228.12" r="1.5" fill="#5b2c83"/>
<circle cx="500.08" cy="228.12" r="1.5" fill="#5b2c83"/>
<circle cx="501.05" cy="228.12" r="1.5" fill="#5b2c83"/>
<circle cx="502.99" cy="228.12" r="1.5" fill="#5b2c83"/>
<circle cx="503.96" cy="228.12" r="1.5" fill="#5b2c83"/>
<circle cx="505.90" cy="228.12" r="1.5" fill="#5b2c83"/>
<circle cx="507.84" cy="228.12" r="1.5" fill="#5b2c83"/>
<polyline points="399.20,227.77 410.84,226.90 418.60,226.55 424.42,226.55 430.24,225.49 443.82,223.04 453.52,223.56 457.40,223.74 465.16,224.09 470.98,225.14 480.68,225.49 494.26,225.67 498.14,225.84 502.02,226.02 505.90,226.19 507.84,226.19" fill="none" stroke="#3cb54a" stroke-width="1.3" stroke-linejoin="round"/>
<circle cx="399.20" cy="227.77" r="1.5" fill="#3cb54a"/>
<circle cx="410.84" cy="226.90" r="1.5" fill="#3cb54a"/>
<circle cx="418.60" cy="226.55" r="1.5" fill="#3cb54a"/>
<circle cx="424.42" cy="226.55" r="1.5" fill="#3cb54a"/>
<circle cx="430.24" cy="225.49" r="1.5" fill="#3cb54a"/>
<circle cx="443.82" cy="223.04" r="1.5" fill="#3cb54a"/>
<circle cx="453.52" cy="223.56" r="1.5" fill="#3cb54a"/>
<circle cx="457.40" cy="223.74" r="1.5" fill="#3cb54a"/>
<circle cx="465.16" cy="224.09" r="1.5" fill="#3cb54a"/>
<circle cx="470.98" cy="225.14" r="1.5" fill="#3cb54a"/>
<circle cx="480.68" cy="225.49" r="1.5" fill="#3cb54a"/>
<circle cx="494.26" cy="225.67" r="1.5" fill="#3cb54a"/>
<circle cx="498.14" cy="225.84" r="1.5" fill="#3cb54a"/>
<circle cx="502.02" cy="226.02" r="1.5" fill="#3cb54a"/>
<circle cx="505.90" cy="226.19" r="1.5" fill="#3cb54a"/>
<circle cx="507.84" cy="226.19" r="1.5" fill="#3cb54a"/>
<polyline points="399.20,226.72 410.84,226.72 418.60,226.90 424.42,226.90 430.24,226.55 443.82,225.67 453.52,225.32 457.40,225.14 465.16,225.32 470.98,225.32 480.68,225.32 494.26,225.14 497.17,224.79 498.14,224.97 500.08,225.14 502.02,225.32 503.96,225.49 505.90,225.32 507.84,224.97" fill="none" stroke="#c8102e" stroke-width="1.3" stroke-linejoin="round"/>
<circle cx="399.20" cy="226.72" r="1.5" fill="#c8102e"/>
<circle cx="410.84" cy="226.72" r="1.5" fill="#c8102e"/>
<circle cx="418.60" cy="226.90" r="1.5" fill="#c8102e"/>
<circle cx="424.42" cy="226.90" r="1.5" fill="#c8102e"/>
<circle cx="430.24" cy="226.55" r="1.5" fill="#c8102e"/>
<circle cx="443.82" cy="225.67" r="1.5" fill="#c8102e"/>
<circle cx="453.52" cy="225.32" r="1.5" fill="#c8102e"/>
<circle cx="457.40" cy="225.14" r="1.5" fill="#c8102e"/>
<circle cx="465.16" cy="225.32" r="1.5" fill="#c8102e"/>
<circle cx="470.98" cy="225.32" r="1.5" fill="#c8102e"/>
<circle cx="480.68" cy="225.32" r="1.5" fill="#c8102e"/>
<circle cx="494.26" cy="225.14" r="1.5" fill="#c8102e"/>
<circle cx="497.17" cy="224.79" r="1.5" fill="#c8102e"/>
<circle cx="498.14" cy="224.97" r="1.5" fill="#c8102e"/>
<circle cx="500.08" cy="225.14" r="1.5" fill="#c8102e"/>
<circle cx="502.02" cy="225.32" r="1.5" fill="#c8102e"/>
<circle cx="503.96" cy="225.49" r="1.5" fill="#c8102e"/>
<circle cx="505.90" cy="225.32" r="1.5" fill="#c8102e"/>
<circle cx="507.84" cy="224.97" r="1.5" fill="#c8102e"/>
<polyline points="399.20,223.39 410.84,214.61 418.60,209.00 424.42,206.71 430.24,202.33 443.82,194.43 453.52,191.45 457.40,190.22 465.16,189.16 470.98,187.94 480.68,174.77 494.26,171.26 497.17,173.02 498.14,177.41 500.08,175.65 501.05,166.00 502.99,160.73 503.96,163.37 505.90,169.51 507.84,148.45" fill="none" stroke="#1b4f80" stroke-width="1.3" stroke-linejoin="round"/>
<circle cx="399.20" cy="223.39" r="1.5" fill="#1b4f80"/>
<circle cx="410.84" cy="214.61" r="1.5" fill="#1b4f80"/>
<circle cx="418.60" cy="209.00" r="1.5" fill="#1b4f80"/>
<circle cx="424.42" cy="206.71" r="1.5" fill="#1b4f80"/>
<circle cx="430.24" cy="202.33" r="1.5" fill="#1b4f80"/>
<circle cx="443.82" cy="194.43" r="1.5" fill="#1b4f80"/>
<circle cx="453.52" cy="191.45" r="1.5" fill="#1b4f80"/>
<circle cx="457.40" cy="190.22" r="1.5" fill="#1b4f80"/>
<circle cx="465.16" cy="189.16" r="1.5" fill="#1b4f80"/>
<circle cx="470.98" cy="187.94" r="1.5" fill="#1b4f80"/>
<circle cx="480.68" cy="174.77" r="1.5" fill="#1b4f80"/>
<circle cx="494.26" cy="171.26" r="1.5" fill="#1b4f80"/>
<circle cx="497.17" cy="173.02" r="1.5" fill="#1b4f80"/>
<circle cx="498.14" cy="177.41" r="1.5" fill="#1b4f80"/>
<circle cx="500.08" cy="175.65" r="1.5" fill="#1b4f80"/>
<circle cx="501.05" cy="166.00" r="1.5" fill="#1b4f80"/>
<circle cx="502.99" cy="160.73" r="1.5" fill="#1b4f80"/>
<circle cx="503.96" cy="163.37" r="1.5" fill="#1b4f80"/>
<circle cx="505.90" cy="169.51" r="1.5" fill="#1b4f80"/>
<circle cx="507.84" cy="148.45" r="1.5" fill="#1b4f80"/>
<line x1="385.80" y1="228.30" x2="389.00" y2="228.30" stroke="#231f20" stroke-width="0.9" />
<text x="383.30" y="231.20" font-size="8.2" fill="#231f20" stroke="#231f20" stroke-width="0.2" text-anchor="end" >0</text>
<line x1="385.80" y1="210.75" x2="389.00" y2="210.75" stroke="#231f20" stroke-width="0.9" />
<text x="383.30" y="213.65" font-size="8.2" fill="#231f20" stroke="#231f20" stroke-width="0.2" text-anchor="end" >10</text>
<line x1="385.80" y1="193.20" x2="389.00" y2="193.20" stroke="#231f20" stroke-width="0.9" />
<text x="383.30" y="196.10" font-size="8.2" fill="#231f20" stroke="#231f20" stroke-width="0.2" text-anchor="end" >20</text>
<line x1="385.80" y1="175.65" x2="389.00" y2="175.65" stroke="#231f20" stroke-width="0.9" />
<text x="383.30" y="178.55" font-size="8.2" fill="#231f20" stroke="#231f20" stroke-width="0.2" text-anchor="end" >30</text>
<line x1="385.80" y1="158.10" x2="389.00" y2="158.10" stroke="#231f20" stroke-width="0.9" />
<text x="383.30" y="161.00" font-size="8.2" fill="#231f20" stroke="#231f20" stroke-width="0.2" text-anchor="end" >40</text>
<line x1="385.80" y1="140.55" x2="389.00" y2="140.55" stroke="#231f20" stroke-width="0.9" />
<text x="383.30" y="143.45" font-size="8.2" fill="#231f20" stroke="#231f20" stroke-width="0.2" text-anchor="end" >50</text>
<line x1="389.50" y1="228.30" x2="389.50" y2="231.30" stroke="#231f20" stroke-width="0.9" />
<text x="389.50" y="240.70" font-size="8.2" fill="#231f20" stroke="#231f20" stroke-width="0.2" text-anchor="middle" >0</text>
<line x1="408.90" y1="228.30" x2="408.90" y2="231.30" stroke="#231f20" stroke-width="0.9" />
<text x="408.90" y="240.70" font-size="8.2" fill="#231f20" stroke="#231f20" stroke-width="0.2" text-anchor="middle" >10</text>
<line x1="428.30" y1="228.30" x2="428.30" y2="231.30" stroke="#231f20" stroke-width="0.9" />
<text x="428.30" y="240.70" font-size="8.2" fill="#231f20" stroke="#231f20" stroke-width="0.2" text-anchor="middle" >20</text>
<line x1="447.70" y1="228.30" x2="447.70" y2="231.30" stroke="#231f20" stroke-width="0.9" />
<text x="447.70" y="240.70" font-size="8.2" fill="#231f20" stroke="#231f20" stroke-width="0.2" text-anchor="middle" >30</text>
<line x1="467.10" y1="228.30" x2="467.10" y2="231.30" stroke="#231f20" stroke-width="0.9" />
<text x="467.10" y="240.70" font-size="8.2" fill="#231f20" stroke="#231f20" stroke-width="0.2" text-anchor="middle" >40</text>
<line x1="486.50" y1="228.30" x2="486.50" y2="231.30" stroke="#231f20" stroke-width="0.9" />
<text x="486.50" y="240.70" font-size="8.2" fill="#231f20" stroke="#231f20" stroke-width="0.2" text-anchor="middle" >50</text>
<line x1="505.90" y1="228.30" x2="505.90" y2="231.30" stroke="#231f20" stroke-width="0.9" />
<text x="505.90" y="240.70" font-size="8.2" fill="#231f20" stroke="#231f20" stroke-width="0.2" text-anchor="middle" >60</text>
<text x="453.00" y="131.30" font-size="9.2" fill="#231f20" stroke="#231f20" stroke-width="0.14" text-anchor="middle" >ZL26</text>
<text x="500.80" y="137.70" font-size="7.5" fill="#231f20" stroke="#231f20" stroke-width="0.14" text-anchor="middle" >TCZ</text>
<line x1="497.51" y1="145.00" x2="503.53" y2="145.00" stroke="#111" stroke-width="1.0" />
<polygon points="496.31,145.00 498.91,143.40 498.91,146.60" fill="#111" />
<polygon points="504.73,145.00 502.13,143.40 502.13,146.60" fill="#111" />
<text transform="translate(366.60 181.80) rotate(-90)" font-size="9.8" fill="#231f20" stroke="#231f20" stroke-width="0.25" text-anchor="middle" textLength="87" lengthAdjust="spacingAndGlyphs" >Mutant allele fraction (%)</text>
<text x="454.60" y="254.60" font-size="9.8" fill="#231f20" stroke="#231f20" stroke-width="0.25" text-anchor="middle" textLength="78.2" lengthAdjust="spacingAndGlyphs" >Months post-transplant</text>
<line x1="394.60" y1="141.50" x2="402.30" y2="141.50" stroke="#1b4f80" stroke-width="1.2" />
<circle cx="398.4" cy="141.50" r="1.6" fill="#1b4f80"/>
<text x="405.30" y="144.20" font-size="7.8" fill="#231f20" stroke="#231f20" stroke-width="0.14" textLength="16.7" lengthAdjust="spacingAndGlyphs" >TET2</text>
<line x1="394.60" y1="150.80" x2="402.30" y2="150.80" stroke="#c8102e" stroke-width="1.2" />
<circle cx="398.4" cy="150.80" r="1.6" fill="#c8102e"/>
<text x="405.30" y="153.50" font-size="7.8" fill="#231f20" stroke="#231f20" stroke-width="0.14" textLength="31.9" lengthAdjust="spacingAndGlyphs" >DNMT3A</text>
<line x1="394.60" y1="160.10" x2="402.30" y2="160.10" stroke="#3cb54a" stroke-width="1.2" />
<circle cx="398.4" cy="160.10" r="1.6" fill="#3cb54a"/>
<text x="405.30" y="162.80" font-size="7.8" fill="#231f20" stroke="#231f20" stroke-width="0.14" textLength="21.8" lengthAdjust="spacingAndGlyphs" >ASXL1</text>
<line x1="394.60" y1="169.40" x2="402.30" y2="169.40" stroke="#5b2c83" stroke-width="1.2" />
<circle cx="398.4" cy="169.40" r="1.6" fill="#5b2c83"/>
<text x="405.30" y="172.10" font-size="7.8" fill="#231f20" stroke="#231f20" stroke-width="0.14" textLength="22.5" lengthAdjust="spacingAndGlyphs" >AAVS1</text>
</g>
<g id="panel-d">
<text x="1.60" y="280.00" font-size="11.4" fill="#111" stroke="#111" stroke-width="0.4" font-weight="bold" textLength="7.9" lengthAdjust="spacingAndGlyphs" >D</text>
<text x="296.00" y="281.70" font-size="9.3" fill="#231f20" stroke="#231f20" stroke-width="0.14" text-anchor="middle" textLength="48" lengthAdjust="spacingAndGlyphs" >ZH63 TET2</text>
<text x="380.80" y="284.80" font-size="7.8" fill="#35689f" text-anchor="middle" >TCZ</text>
<text x="14.2" y="301.15" font-size="7.25" font-weight="bold" font-family='"Liberation Mono", "DejaVu Sans Mono", monospace' fill="#111" stroke="#111" stroke-width="0.25" textLength="87.00" lengthAdjust="spacingAndGlyphs">CGTCCATTC<tspan fill="#e8404a" stroke="none">-</tspan>CAGGGGTCAC</text>
<rect x="103.75" y="291.75" width="19.22" height="13.15" fill="#789ed2"/>
<rect x="122.82" y="291.75" width="19.22" height="13.15" fill="#82a6d5"/>
<rect x="141.89" y="291.75" width="19.22" height="13.15" fill="#789ed2"/>
<rect x="160.96" y="291.75" width="19.22" height="13.15" fill="#a0bee0"/>
<rect x="180.03" y="291.75" width="19.22" height="13.15" fill="#b9d2e9"/>
<rect x="199.10" y="291.75" width="19.22" height="13.15" fill="#c2d9ec"/>
<rect x="218.17" y="291.75" width="19.22" height="13.15" fill="#cae1f0"/>
<rect x="237.24" y="291.75" width="19.22" height="13.15" fill="#cee3ef"/>
<rect x="256.31" y="291.75" width="19.22" height="13.15" fill="#d4e7ee"/>
<rect x="275.38" y="291.75" width="19.22" height="13.15" fill="#cee3ef"/>
<rect x="294.45" y="291.75" width="19.22" height="13.15" fill="#cee3ef"/>
<rect x="313.52" y="291.75" width="19.22" height="13.15" fill="#cae1f0"/>
<rect x="332.59" y="291.75" width="19.22" height="13.15" fill="#cee3ef"/>
<rect x="351.66" y="291.75" width="19.22" height="13.15" fill="#cce2f0"/>
<rect x="370.73" y="291.75" width="19.22" height="13.15" fill="#cae1f0"/>
<rect x="389.80" y="291.75" width="19.22" height="13.15" fill="#c7deef"/>
<rect x="408.87" y="291.75" width="19.22" height="13.15" fill="#cae1f0"/>
<rect x="427.94" y="291.75" width="19.22" height="13.15" fill="#c9e0ef"/>
<rect x="447.01" y="291.75" width="19.22" height="13.15" fill="#cee3ef"/>
<rect x="466.08" y="291.75" width="19.22" height="13.15" fill="#d8e9ec"/>
<text x="14.2" y="314.15" font-size="7.25" font-weight="bold" font-family='"Liberation Mono", "DejaVu Sans Mono", monospace' fill="#111" stroke="#111" stroke-width="0.25" textLength="87.00" lengthAdjust="spacingAndGlyphs"><tspan fill="#e8404a" stroke="none">-</tspan><tspan fill="#e8404a" stroke="none">-</tspan><tspan fill="#e8404a" stroke="none">-</tspan><tspan fill="#e8404a" stroke="none">-</tspan><tspan fill="#e8404a" stroke="none">-</tspan><tspan fill="#e8404a" stroke="none">-</tspan><tspan fill="#e8404a" stroke="none">-</tspan><tspan fill="#e8404a" stroke="none">-</tspan><tspan fill="#e8404a" stroke="none">-</tspan>TCAGGGGTCAC</text>
<rect x="103.75" y="304.75" width="19.22" height="13.15" fill="#789ed2"/>
<rect x="122.82" y="304.75" width="19.22" height="13.15" fill="#85a9d7"/>
<rect x="141.89" y="304.75" width="19.22" height="13.15" fill="#789ed2"/>
<rect x="160.96" y="304.75" width="19.22" height="13.15" fill="#7a9fd2"/>
<rect x="180.03" y="304.75" width="19.22" height="13.15" fill="#a0bee0"/>
<rect x="199.10" y="304.75" width="19.22" height="13.15" fill="#a0bee0"/>
<rect x="218.17" y="304.75" width="19.22" height="13.15" fill="#cae1f0"/>
<rect x="237.24" y="304.75" width="19.22" height="13.15" fill="#d3e6ee"/>
<rect x="256.31" y="304.75" width="19.22" height="13.15" fill="#dfede8"/>
<rect x="275.38" y="304.75" width="19.22" height="13.15" fill="#f1f7d9"/>
<rect x="294.45" y="304.75" width="19.22" height="13.15" fill="#fbf7c6"/>
<rect x="313.52" y="304.75" width="19.22" height="13.15" fill="#fcf7c4"/>
<rect x="332.59" y="304.75" width="19.22" height="13.15" fill="#f9f7c9"/>
<rect x="351.66" y="304.75" width="19.22" height="13.15" fill="#f5f7d2"/>
<rect x="370.73" y="304.75" width="19.22" height="13.15" fill="#f4f7d3"/>
<rect x="389.80" y="304.75" width="19.22" height="13.15" fill="#f1f7d9"/>
<rect x="408.87" y="304.75" width="19.22" height="13.15" fill="#f7f7cf"/>
<rect x="427.94" y="304.75" width="19.22" height="13.15" fill="#eaf3e0"/>
<rect x="447.01" y="304.75" width="19.22" height="13.15" fill="#eef5dc"/>
<rect x="466.08" y="304.75" width="19.22" height="13.15" fill="#f4f7d3"/>
<text x="14.2" y="327.15" font-size="7.25" font-weight="bold" font-family='"Liberation Mono", "DejaVu Sans Mono", monospace' fill="#111" stroke="#111" stroke-width="0.25" textLength="87.00" lengthAdjust="spacingAndGlyphs">CGTCCA<tspan fill="#e8404a" stroke="none">-</tspan><tspan fill="#e8404a" stroke="none">-</tspan><tspan fill="#e8404a" stroke="none">-</tspan>TCAGGGGTCAC</text>
<rect x="103.75" y="317.75" width="19.22" height="13.15" fill="#789ed2"/>
<rect x="122.82" y="317.75" width="19.22" height="13.15" fill="#b9d2e9"/>
<rect x="141.89" y="317.75" width="19.22" height="13.15" fill="#bed6eb"/>
<rect x="160.96" y="317.75" width="19.22" height="13.15" fill="#cae1f0"/>
<rect x="180.03" y="317.75" width="19.22" height="13.15" fill="#cee3ef"/>
<rect x="199.10" y="317.75" width="19.22" height="13.15" fill="#d1e5ef"/>
<rect x="218.17" y="317.75" width="19.22" height="13.15" fill="#e6f1e3"/>
<rect x="237.24" y="317.75" width="19.22" height="13.15" fill="#fbf7c6"/>
<rect x="256.31" y="317.75" width="19.22" height="13.15" fill="#fee5a5"/>
<rect x="275.38" y="317.75" width="19.22" height="13.15" fill="#fbc88d"/>
<rect x="294.45" y="317.75" width="19.22" height="13.15" fill="#f7af7e"/>
<rect x="313.52" y="317.75" width="19.22" height="13.15" fill="#f49a6d"/>
<rect x="332.59" y="317.75" width="19.22" height="13.15" fill="#f49a6d"/>
<rect x="351.66" y="317.75" width="19.22" height="13.15" fill="#f49b6d"/>
<rect x="370.73" y="317.75" width="19.22" height="13.15" fill="#f7af7e"/>
<rect x="389.80" y="317.75" width="19.22" height="13.15" fill="#f7ae7d"/>
<rect x="408.87" y="317.75" width="19.22" height="13.15" fill="#f5a676"/>
<rect x="427.94" y="317.75" width="19.22" height="13.15" fill="#f8b682"/>
<rect x="447.01" y="317.75" width="19.22" height="13.15" fill="#f49b6d"/>
<rect x="466.08" y="317.75" width="19.22" height="13.15" fill="#f5a676"/>
<text x="14.2" y="340.15" font-size="7.25" font-weight="bold" font-family='"Liberation Mono", "DejaVu Sans Mono", monospace' fill="#111" stroke="#111" stroke-width="0.25" textLength="87.00" lengthAdjust="spacingAndGlyphs"><tspan fill="#e8404a" stroke="none">-</tspan><tspan fill="#e8404a" stroke="none">-</tspan><tspan fill="#e8404a" stroke="none">-</tspan><tspan fill="#e8404a" stroke="none">-</tspan><tspan fill="#e8404a" stroke="none">-</tspan><tspan fill="#e8404a" stroke="none">-</tspan><tspan fill="#e8404a" stroke="none">-</tspan><tspan fill="#e8404a" stroke="none">-</tspan><tspan fill="#e8404a" stroke="none">-</tspan><tspan fill="#e8404a" stroke="none">-</tspan><tspan fill="#e8404a" stroke="none">-</tspan><tspan fill="#e8404a" stroke="none">-</tspan>GGGGTCAC</text>
<rect x="103.75" y="330.75" width="19.22" height="13.15" fill="#7197cd"/>
<rect x="122.82" y="330.75" width="19.22" height="13.15" fill="#7197cd"/>
<rect x="141.89" y="330.75" width="19.22" height="13.15" fill="#7197cd"/>
<rect x="160.96" y="330.75" width="19.22" height="13.15" fill="#a0bee0"/>
<rect x="180.03" y="330.75" width="19.22" height="13.15" fill="#b9d2e9"/>
<rect x="199.10" y="330.75" width="19.22" height="13.15" fill="#a0bee0"/>
<rect x="218.17" y="330.75" width="19.22" height="13.15" fill="#cce2f0"/>
<rect x="237.24" y="330.75" width="19.22" height="13.15" fill="#d6e8ed"/>
<rect x="256.31" y="330.75" width="19.22" height="13.15" fill="#e8f2e1"/>
<rect x="275.38" y="330.75" width="19.22" height="13.15" fill="#f3f7d6"/>
<rect x="294.45" y="330.75" width="19.22" height="13.15" fill="#f6f7d0"/>
<rect x="313.52" y="330.75" width="19.22" height="13.15" fill="#f9f7cb"/>
<rect x="332.59" y="330.75" width="19.22" height="13.15" fill="#f6f7cf"/>
<rect x="351.66" y="330.75" width="19.22" height="13.15" fill="#f0f6da"/>
<rect x="370.73" y="330.75" width="19.22" height="13.15" fill="#f1f6d9"/>
<rect x="389.80" y="330.75" width="19.22" height="13.15" fill="#f4f7d4"/>
<rect x="408.87" y="330.75" width="19.22" height="13.15" fill="#eef5dc"/>
<rect x="427.94" y="330.75" width="19.22" height="13.15" fill="#e4f0e4"/>
<rect x="447.01" y="330.75" width="19.22" height="13.15" fill="#fdf3b8"/>
<rect x="466.08" y="330.75" width="19.22" height="13.15" fill="#f9f7c9"/>
<text x="14.2" y="353.15" font-size="7.25" font-weight="bold" font-family='"Liberation Mono", "DejaVu Sans Mono", monospace' fill="#111" stroke="#111" stroke-width="0.25" textLength="87.00" lengthAdjust="spacingAndGlyphs">CGTCCATTCT<tspan fill="#e0202a" stroke="#e0202a">T</tspan><tspan fill="#e0202a" stroke="#e0202a">T</tspan>CAGGGGTC</text>
<rect x="103.75" y="343.75" width="19.22" height="13.15" fill="#789ed2"/>
<rect x="122.82" y="343.75" width="19.22" height="13.15" fill="#b0cce6"/>
<rect x="141.89" y="343.75" width="19.22" height="13.15" fill="#b9d2e9"/>
<rect x="160.96" y="343.75" width="19.22" height="13.15" fill="#cae1f0"/>
<rect x="180.03" y="343.75" width="19.22" height="13.15" fill="#cae1f0"/>
<rect x="199.10" y="343.75" width="19.22" height="13.15" fill="#c6ddee"/>
<rect x="218.17" y="343.75" width="19.22" height="13.15" fill="#d0e4ef"/>
<rect x="237.24" y="343.75" width="19.22" height="13.15" fill="#d3e6ee"/>
<rect x="256.31" y="343.75" width="19.22" height="13.15" fill="#e4f0e4"/>
<rect x="275.38" y="343.75" width="19.22" height="13.15" fill="#e6f1e3"/>
<rect x="294.45" y="343.75" width="19.22" height="13.15" fill="#ebf4df"/>
<rect x="313.52" y="343.75" width="19.22" height="13.15" fill="#e9f3e0"/>
<rect x="332.59" y="343.75" width="19.22" height="13.15" fill="#e3efe5"/>
<rect x="351.66" y="343.75" width="19.22" height="13.15" fill="#e3efe5"/>
<rect x="370.73" y="343.75" width="19.22" height="13.15" fill="#e3efe5"/>
<rect x="389.80" y="343.75" width="19.22" height="13.15" fill="#e3efe5"/>
<rect x="408.87" y="343.75" width="19.22" height="13.15" fill="#e7f1e2"/>
<rect x="427.94" y="343.75" width="19.22" height="13.15" fill="#e3efe4"/>
<rect x="447.01" y="343.75" width="19.22" height="13.15" fill="#eff5db"/>
<rect x="466.08" y="343.75" width="19.22" height="13.15" fill="#e4f0e4"/>
<text x="14.2" y="366.15" font-size="7.25" font-weight="bold" font-family='"Liberation Mono", "DejaVu Sans Mono", monospace' fill="#111" stroke="#111" stroke-width="0.25" textLength="87.00" lengthAdjust="spacingAndGlyphs">CGTCCA<tspan fill="#e8404a" stroke="none">-</tspan><tspan fill="#e8404a" stroke="none">-</tspan><tspan fill="#e8404a" stroke="none">-</tspan><tspan fill="#e8404a" stroke="none">-</tspan>CAGGGGTCAC</text>
<rect x="103.75" y="356.75" width="19.22" height="13.15" fill="#789ed2"/>
<rect x="122.82" y="356.75" width="19.22" height="13.15" fill="#c4dbed"/>
<rect x="141.89" y="356.75" width="19.22" height="13.15" fill="#7197cd"/>
<rect x="160.96" y="356.75" width="19.22" height="13.15" fill="#b0cce6"/>
<rect x="180.03" y="356.75" width="19.22" height="13.15" fill="#bed6eb"/>
<rect x="199.10" y="356.75" width="19.22" height="13.15" fill="#b0cce6"/>
<rect x="218.17" y="356.75" width="19.22" height="13.15" fill="#cce2f0"/>
<rect x="237.24" y="356.75" width="19.22" height="13.15" fill="#d3e6ee"/>
<rect x="256.31" y="356.75" width="19.22" height="13.15" fill="#d6e8ed"/>
<rect x="275.38" y="356.75" width="19.22" height="13.15" fill="#dcebe9"/>
<rect x="294.45" y="356.75" width="19.22" height="13.15" fill="#e1eee6"/>
<rect x="313.52" y="356.75" width="19.22" height="13.15" fill="#e6f1e3"/>
<rect x="332.59" y="356.75" width="19.22" height="13.15" fill="#e2eee5"/>
<rect x="351.66" y="356.75" width="19.22" height="13.15" fill="#e5f0e3"/>
<rect x="370.73" y="356.75" width="19.22" height="13.15" fill="#e1eee6"/>
<rect x="389.80" y="356.75" width="19.22" height="13.15" fill="#e8f2e1"/>
<rect x="408.87" y="356.75" width="19.22" height="13.15" fill="#e7f1e2"/>
<rect x="427.94" y="356.75" width="19.22" height="13.15" fill="#eaf3e0"/>
<rect x="447.01" y="356.75" width="19.22" height="13.15" fill="#c4dbed"/>
<rect x="466.08" y="356.75" width="19.22" height="13.15" fill="#eaf3e0"/>
<text x="14.2" y="379.15" font-size="7.25" font-weight="bold" font-family='"Liberation Mono", "DejaVu Sans Mono", monospace' fill="#111" stroke="#111" stroke-width="0.25" textLength="87.00" lengthAdjust="spacingAndGlyphs">CGTCCATTCT<tspan fill="#e8404a" stroke="none">-</tspan><tspan fill="#e8404a" stroke="none">-</tspan>GGGGTCAC</text>
<rect x="103.75" y="369.75" width="19.22" height="13.15" fill="#789ed2"/>
<rect x="122.82" y="369.75" width="19.22" height="13.15" fill="#b0cce6"/>
<rect x="141.89" y="369.75" width="19.22" height="13.15" fill="#c2d9ec"/>
<rect x="160.96" y="369.75" width="19.22" height="13.15" fill="#c7deef"/>
<rect x="180.03" y="369.75" width="19.22" height="13.15" fill="#c6ddee"/>
<rect x="199.10" y="369.75" width="19.22" height="13.15" fill="#c9e0ef"/>
<rect x="218.17" y="369.75" width="19.22" height="13.15" fill="#d9eaeb"/>
<rect x="237.24" y="369.75" width="19.22" height="13.15" fill="#e7f1e2"/>
<rect x="256.31" y="369.75" width="19.22" height="13.15" fill="#f0f6da"/>
<rect x="275.38" y="369.75" width="19.22" height="13.15" fill="#f5f7d2"/>
<rect x="294.45" y="369.75" width="19.22" height="13.15" fill="#f9f7ca"/>
<rect x="313.52" y="369.75" width="19.22" height="13.15" fill="#fdf5be"/>
<rect x="332.59" y="369.75" width="19.22" height="13.15" fill="#fdf5bf"/>
<rect x="351.66" y="369.75" width="19.22" height="13.15" fill="#faf7c8"/>
<rect x="370.73" y="369.75" width="19.22" height="13.15" fill="#fdf5be"/>
<rect x="389.80" y="369.75" width="19.22" height="13.15" fill="#faf7c8"/>
<rect x="408.87" y="369.75" width="19.22" height="13.15" fill="#fdf4bb"/>
<rect x="427.94" y="369.75" width="19.22" height="13.15" fill="#f4f7d3"/>
<rect x="447.01" y="369.75" width="19.22" height="13.15" fill="#f6f7d1"/>
<rect x="466.08" y="369.75" width="19.22" height="13.15" fill="#fdf5bf"/>
<text x="14.2" y="392.15" font-size="7.25" font-weight="bold" font-family='"Liberation Mono", "DejaVu Sans Mono", monospace' fill="#111" stroke="#111" stroke-width="0.25" textLength="87.00" lengthAdjust="spacingAndGlyphs">CGTCCAT<tspan fill="#e8404a" stroke="none">-</tspan><tspan fill="#e8404a" stroke="none">-</tspan>TCAGGGGTCAC</text>
<rect x="103.75" y="382.75" width="19.22" height="13.15" fill="#789ed2"/>
<rect x="122.82" y="382.75" width="19.22" height="13.15" fill="#d8e9ec"/>
<rect x="141.89" y="382.75" width="19.22" height="13.15" fill="#e7f1e2"/>
<rect x="160.96" y="382.75" width="19.22" height="13.15" fill="#ecf4de"/>
<rect x="180.03" y="382.75" width="19.22" height="13.15" fill="#eff5db"/>
<rect x="199.10" y="382.75" width="19.22" height="13.15" fill="#eaf3e0"/>
<rect x="218.17" y="382.75" width="19.22" height="13.15" fill="#feecad"/>
<rect x="237.24" y="382.75" width="19.22" height="13.15" fill="#fdd698"/>
<rect x="256.31" y="382.75" width="19.22" height="13.15" fill="#fbc98e"/>
<rect x="275.38" y="382.75" width="19.22" height="13.15" fill="#f7b280"/>
<rect x="294.45" y="382.75" width="19.22" height="13.15" fill="#f49c6e"/>
<rect x="313.52" y="382.75" width="19.22" height="13.15" fill="#f29669"/>
<rect x="332.59" y="382.75" width="19.22" height="13.15" fill="#f3976a"/>
<rect x="351.66" y="382.75" width="19.22" height="13.15" fill="#f29669"/>
<rect x="370.73" y="382.75" width="19.22" height="13.15" fill="#f6a978"/>
<rect x="389.80" y="382.75" width="19.22" height="13.15" fill="#f49f71"/>
<rect x="408.87" y="382.75" width="19.22" height="13.15" fill="#f49b6d"/>
<rect x="427.94" y="382.75" width="19.22" height="13.15" fill="#f6ae7c"/>
<rect x="447.01" y="382.75" width="19.22" height="13.15" fill="#f49c6e"/>
<rect x="466.08" y="382.75" width="19.22" height="13.15" fill="#f39a6c"/>
<text x="14.2" y="405.15" font-size="7.25" font-weight="bold" font-family='"Liberation Mono", "DejaVu Sans Mono", monospace' fill="#111" stroke="#111" stroke-width="0.25" textLength="87.00" lengthAdjust="spacingAndGlyphs">CGTCCATTCT<tspan fill="#e0202a" stroke="#e0202a">T</tspan>CAGGGGTCA</text>
<rect x="103.75" y="395.75" width="19.22" height="13.15" fill="#789ed2"/>
<rect x="122.82" y="395.75" width="19.22" height="13.15" fill="#e4f0e4"/>
<rect x="141.89" y="395.75" width="19.22" height="13.15" fill="#e7f1e2"/>
<rect x="160.96" y="395.75" width="19.22" height="13.15" fill="#f3f7d6"/>
<rect x="180.03" y="395.75" width="19.22" height="13.15" fill="#fcf6c0"/>
<rect x="199.10" y="395.75" width="19.22" height="13.15" fill="#fcf7c5"/>
<rect x="218.17" y="395.75" width="19.22" height="13.15" fill="#fbc68c"/>
<rect x="237.24" y="395.75" width="19.22" height="13.15" fill="#f49f71"/>
<rect x="256.31" y="395.75" width="19.22" height="13.15" fill="#f29569"/>
<rect x="275.38" y="395.75" width="19.22" height="13.15" fill="#ec7050"/>
<rect x="294.45" y="395.75" width="19.22" height="13.15" fill="#e24e3c"/>
<rect x="313.52" y="395.75" width="19.22" height="13.15" fill="#da3c31"/>
<rect x="332.59" y="395.75" width="19.22" height="13.15" fill="#d7382f"/>
<rect x="351.66" y="395.75" width="19.22" height="13.15" fill="#dc4033"/>
<rect x="370.73" y="395.75" width="19.22" height="13.15" fill="#e3533f"/>
<rect x="389.80" y="395.75" width="19.22" height="13.15" fill="#e55842"/>
<rect x="408.87" y="395.75" width="19.22" height="13.15" fill="#e24f3d"/>
<rect x="427.94" y="395.75" width="19.22" height="13.15" fill="#e65c44"/>
<rect x="447.01" y="395.75" width="19.22" height="13.15" fill="#db3e32"/>
<rect x="466.08" y="395.75" width="19.22" height="13.15" fill="#d6362e"/>
<text x="14.2" y="418.15" font-size="7.25" font-weight="bold" font-family='"Liberation Mono", "DejaVu Sans Mono", monospace' fill="#111" stroke="#111" stroke-width="0.25" textLength="87.00" lengthAdjust="spacingAndGlyphs">CGTCCATTCTCAGGGGTCAC</text>
<rect x="103.75" y="408.75" width="19.22" height="13.15" fill="#961010"/>
<rect x="122.82" y="408.75" width="19.22" height="13.15" fill="#971111"/>
<rect x="141.89" y="408.75" width="19.22" height="13.15" fill="#981111"/>
<rect x="160.96" y="408.75" width="19.22" height="13.15" fill="#981111"/>
<rect x="180.03" y="408.75" width="19.22" height="13.15" fill="#991111"/>
<rect x="199.10" y="408.75" width="19.22" height="13.15" fill="#991111"/>
<rect x="218.17" y="408.75" width="19.22" height="13.15" fill="#9e1414"/>
<rect x="237.24" y="408.75" width="19.22" height="13.15" fill="#a41616"/>
<rect x="256.31" y="408.75" width="19.22" height="13.15" fill="#a81818"/>
<rect x="275.38" y="408.75" width="19.22" height="13.15" fill="#ab1a1a"/>
<rect x="294.45" y="408.75" width="19.22" height="13.15" fill="#af1d1c"/>
<rect x="313.52" y="408.75" width="19.22" height="13.15" fill="#b2201e"/>
<rect x="332.59" y="408.75" width="19.22" height="13.15" fill="#b2201e"/>
<rect x="351.66" y="408.75" width="19.22" height="13.15" fill="#b11f1e"/>
<rect x="370.73" y="408.75" width="19.22" height="13.15" fill="#ae1c1c"/>
<rect x="389.80" y="408.75" width="19.22" height="13.15" fill="#ae1c1c"/>
<rect x="408.87" y="408.75" width="19.22" height="13.15" fill="#af1d1c"/>
<rect x="427.94" y="408.75" width="19.22" height="13.15" fill="#ac1b1b"/>
<rect x="447.01" y="408.75" width="19.22" height="13.15" fill="#b11f1d"/>
<rect x="466.08" y="408.75" width="19.22" height="13.15" fill="#b2201e"/>
<g font-size="4.85" text-anchor="middle" stroke-width="0.12">
<text class="tb" x="113.3" y="299.9">0%</text>
<text class="tb" x="132.4" y="299.9">0%</text>
<text class="tb" x="151.4" y="299.9">0%</text>
<text class="tb" x="170.5" y="299.9">0.01%</text>
<text class="tg" x="189.6" y="299.9">0.03%</text>
<text class="tg" x="208.6" y="299.9">0.05%</text>
<text class="tg" x="227.7" y="299.9">0.1%</text>
<text class="tg" x="246.8" y="299.9">0.12%</text>
<text class="tg" x="265.8" y="299.9">0.16%</text>
<text class="tg" x="284.9" y="299.9">0.12%</text>
<text class="tg" x="304.0" y="299.9">0.12%</text>
<text class="tg" x="323.1" y="299.9">0.1%</text>
<text class="tg" x="342.1" y="299.9">0.12%</text>
<text class="tg" x="361.2" y="299.9">0.11%</text>
<text class="tg" x="380.3" y="299.9">0.1%</text>
<text class="tg" x="399.3" y="299.9">0.08%</text>
<text class="tg" x="418.4" y="299.9">0.1%</text>
<text class="tg" x="437.5" y="299.9">0.09%</text>
<text class="tg" x="456.5" y="299.9">0.12%</text>
<text class="tg" x="475.6" y="299.9">0.18%</text>
<text class="tb" x="113.3" y="312.9">0%</text>
<text class="tb" x="132.4" y="312.9">0%</text>
<text class="tb" x="151.4" y="312.9">0%</text>
<text class="tb" x="170.5" y="312.9">0%</text>
<text class="tb" x="189.6" y="312.9">0.01%</text>
<text class="tb" x="208.6" y="312.9">0.01%</text>
<text class="tg" x="227.7" y="312.9">0.1%</text>
<text class="tg" x="246.8" y="312.9">0.15%</text>
<text class="tg" x="265.8" y="312.9">0.23%</text>
<text class="tg" x="284.9" y="312.9">0.49%</text>
<text class="tg" x="304.0" y="312.9">0.76%</text>
<text class="tg" x="323.1" y="312.9">0.79%</text>
<text class="tg" x="342.1" y="312.9">0.7%</text>
<text class="tg" x="361.2" y="312.9">0.58%</text>
<text class="tg" x="380.3" y="312.9">0.56%</text>
<text class="tg" x="399.3" y="312.9">0.49%</text>
<text class="tg" x="418.4" y="312.9">0.62%</text>
<text class="tg" x="437.5" y="312.9">0.37%</text>
<text class="tg" x="456.5" y="312.9">0.43%</text>
<text class="tg" x="475.6" y="312.9">0.56%</text>
<text class="tb" x="113.3" y="325.9">0%</text>
<text class="tg" x="132.4" y="325.9">0.03%</text>
<text class="tg" x="151.4" y="325.9">0.04%</text>
<text class="tg" x="170.5" y="325.9">0.1%</text>
<text class="tg" x="189.6" y="325.9">0.12%</text>
<text class="tg" x="208.6" y="325.9">0.14%</text>
<text class="tg" x="227.7" y="325.9">0.31%</text>
<text class="tg" x="246.8" y="325.9">0.76%</text>
<text class="to" x="265.8" y="325.9">1.29%</text>
<text class="to" x="284.9" y="325.9">1.88%</text>
<text class="to" x="304.0" y="325.9">2.73%</text>
<text class="to" x="323.1" y="325.9">3.56%</text>
<text class="to" x="342.1" y="325.9">3.57%</text>
<text class="to" x="361.2" y="325.9">3.54%</text>
<text class="to" x="380.3" y="325.9">2.72%</text>
<text class="to" x="399.3" y="325.9">2.75%</text>
<text class="to" x="418.4" y="325.9">3.06%</text>
<text class="to" x="437.5" y="325.9">2.48%</text>
<text class="to" x="456.5" y="325.9">3.51%</text>
<text class="to" x="475.6" y="325.9">3.05%</text>
<text class="tb" x="113.3" y="338.9">0%</text>
<text class="tb" x="132.4" y="338.9">0%</text>
<text class="tb" x="151.4" y="338.9">0%</text>
<text class="tb" x="170.5" y="338.9">0.01%</text>
<text class="tg" x="189.6" y="338.9">0.03%</text>
<text class="tb" x="208.6" y="338.9">0.01%</text>
<text class="tg" x="227.7" y="338.9">0.11%</text>
<text class="tg" x="246.8" y="338.9">0.17%</text>
<text class="tg" x="265.8" y="338.9">0.34%</text>
<text class="tg" x="284.9" y="338.9">0.53%</text>
<text class="tg" x="304.0" y="338.9">0.6%</text>
<text class="tg" x="323.1" y="338.9">0.68%</text>
<text class="tg" x="342.1" y="338.9">0.61%</text>
<text class="tg" x="361.2" y="338.9">0.46%</text>
<text class="tg" x="380.3" y="338.9">0.48%</text>
<text class="tg" x="399.3" y="338.9">0.55%</text>
<text class="tg" x="418.4" y="338.9">0.43%</text>
<text class="tg" x="437.5" y="338.9">0.29%</text>
<text class="tg" x="456.5" y="338.9">0.94%</text>
<text class="tg" x="475.6" y="338.9">0.7%</text>
<text class="tb" x="113.3" y="351.9">0%</text>
<text class="tb" x="132.4" y="351.9">0%</text>
<text class="tg" x="151.4" y="351.9">0.03%</text>
<text class="tg" x="170.5" y="351.9">0.1%</text>
<text class="tg" x="189.6" y="351.9">0.1%</text>
<text class="tg" x="208.6" y="351.9">0.07%</text>
<text class="tg" x="227.7" y="351.9">0.13%</text>
<text class="tg" x="246.8" y="351.9">0.15%</text>
<text class="tg" x="265.8" y="351.9">0.29%</text>
<text class="tg" x="284.9" y="351.9">0.31%</text>
<text class="tg" x="304.0" y="351.9">0.39%</text>
<text class="tg" x="323.1" y="351.9">0.36%</text>
<text class="tg" x="342.1" y="351.9">0.27%</text>
<text class="tg" x="361.2" y="351.9">0.27%</text>
<text class="tg" x="380.3" y="351.9">0.27%</text>
<text class="tg" x="399.3" y="351.9">0.27%</text>
<text class="tg" x="418.4" y="351.9">0.33%</text>
<text class="tg" x="437.5" y="351.9">0.28%</text>
<text class="tg" x="456.5" y="351.9">0.44%</text>
<text class="tg" x="475.6" y="351.9">0.29%</text>
<text class="tb" x="113.3" y="364.9">0%</text>
<text class="tg" x="132.4" y="364.9">0.06%</text>
<text class="tb" x="151.4" y="364.9">0%</text>
<text class="tg" x="170.5" y="364.9">0.02%</text>
<text class="tg" x="189.6" y="364.9">0.04%</text>
<text class="tg" x="208.6" y="364.9">0.02%</text>
<text class="tg" x="227.7" y="364.9">0.11%</text>
<text class="tg" x="246.8" y="364.9">0.15%</text>
<text class="tg" x="265.8" y="364.9">0.17%</text>
<text class="tg" x="284.9" y="364.9">0.21%</text>
<text class="tg" x="304.0" y="364.9">0.25%</text>
<text class="tg" x="323.1" y="364.9">0.31%</text>
<text class="tg" x="342.1" y="364.9">0.26%</text>
<text class="tg" x="361.2" y="364.9">0.3%</text>
<text class="tg" x="380.3" y="364.9">0.25%</text>
<text class="tg" x="399.3" y="364.9">0.34%</text>
<text class="tg" x="418.4" y="364.9">0.33%</text>
<text class="tg" x="437.5" y="364.9">0.37%</text>
<text class="tg" x="456.5" y="364.9">0.1%</text>
<text class="tg" x="475.6" y="364.9">0.37%</text>
<text class="tb" x="113.3" y="377.9">0%</text>
<text class="tg" x="132.4" y="377.9">0.02%</text>
<text class="tg" x="151.4" y="377.9">0.05%</text>
<text class="tg" x="170.5" y="377.9">0.08%</text>
<text class="tg" x="189.6" y="377.9">0.07%</text>
<text class="tg" x="208.6" y="377.9">0.09%</text>
<text class="tg" x="227.7" y="377.9">0.19%</text>
<text class="tg" x="246.8" y="377.9">0.32%</text>
<text class="tg" x="265.8" y="377.9">0.47%</text>
<text class="tg" x="284.9" y="377.9">0.57%</text>
<text class="tg" x="304.0" y="377.9">0.69%</text>
<text class="tg" x="323.1" y="377.9">0.86%</text>
<text class="tg" x="342.1" y="377.9">0.85%</text>
<text class="tg" x="361.2" y="377.9">0.73%</text>
<text class="tg" x="380.3" y="377.9">0.86%</text>
<text class="tg" x="399.3" y="377.9">0.72%</text>
<text class="tg" x="418.4" y="377.9">0.9%</text>
<text class="tg" x="437.5" y="377.9">0.56%</text>
<text class="tg" x="456.5" y="377.9">0.59%</text>
<text class="tg" x="475.6" y="377.9">0.85%</text>
<text class="tb" x="113.3" y="390.9">0%</text>
<text class="tg" x="132.4" y="390.9">0.18%</text>
<text class="tg" x="151.4" y="390.9">0.32%</text>
<text class="tg" x="170.5" y="390.9">0.4%</text>
<text class="tg" x="189.6" y="390.9">0.44%</text>
<text class="tg" x="208.6" y="390.9">0.37%</text>
<text class="to" x="227.7" y="390.9">1.12%</text>
<text class="to" x="246.8" y="390.9">1.59%</text>
<text class="to" x="265.8" y="390.9">1.86%</text>
<text class="to" x="284.9" y="390.9">2.63%</text>
<text class="to" x="304.0" y="390.9">3.48%</text>
<text class="to" x="323.1" y="390.9">3.86%</text>
<text class="to" x="342.1" y="390.9">3.76%</text>
<text class="to" x="361.2" y="390.9">3.86%</text>
<text class="to" x="380.3" y="390.9">2.96%</text>
<text class="to" x="399.3" y="390.9">3.32%</text>
<text class="to" x="418.4" y="390.9">3.52%</text>
<text class="to" x="437.5" y="390.9">2.78%</text>
<text class="to" x="456.5" y="390.9">3.48%</text>
<text class="to" x="475.6" y="390.9">3.59%</text>
<text class="tb" x="113.3" y="403.9">0%</text>
<text class="tg" x="132.4" y="403.9">0.29%</text>
<text class="tg" x="151.4" y="403.9">0.33%</text>
<text class="tg" x="170.5" y="403.9">0.53%</text>
<text class="tg" x="189.6" y="403.9">0.84%</text>
<text class="tg" x="208.6" y="403.9">0.78%</text>
<text class="to" x="227.7" y="403.9">1.93%</text>
<text class="to" x="246.8" y="403.9">3.33%</text>
<text class="to" x="265.8" y="403.9">3.92%</text>
<text class="tr" x="284.9" y="403.9">5.86%</text>
<text class="tr" x="304.0" y="403.9">8.55%</text>
<text class="tr" x="323.1" y="403.9">10.23%</text>
<text class="tr" x="342.1" y="403.9">10.67%</text>
<text class="tr" x="361.2" y="403.9">9.83%</text>
<text class="tr" x="380.3" y="403.9">8.09%</text>
<text class="tr" x="399.3" y="403.9">7.66%</text>
<text class="tr" x="418.4" y="403.9">8.4%</text>
<text class="tr" x="437.5" y="403.9">7.35%</text>
<text class="tr" x="456.5" y="403.9">10.02%</text>
<text class="tr" x="475.6" y="403.9">10.99%</text>
<text class="tw" x="113.3" y="416.9">100%</text>
<text class="tw" x="132.4" y="416.9">99.41%</text>
<text class="tw" x="151.4" y="416.9">99.23%</text>
<text class="tw" x="170.5" y="416.9">98.74%</text>
<text class="tw" x="189.6" y="416.9">98.32%</text>
<text class="tw" x="208.6" y="416.9">98.46%</text>
<text class="tw" x="227.7" y="416.9">95.9%</text>
<text class="tw" x="246.8" y="416.9">93.25%</text>
<text class="tw" x="265.8" y="416.9">91.27%</text>
<text class="tw" x="284.9" y="416.9">87.4%</text>
<text class="tw" x="304.0" y="416.9">82.45%</text>
<text class="tw" x="323.1" y="416.9">79.25%</text>
<text class="tw" x="342.1" y="416.9">79.18%</text>
<text class="tw" x="361.2" y="416.9">80.33%</text>
<text class="tw" x="380.3" y="416.9">83.7%</text>
<text class="tw" x="399.3" y="416.9">83.81%</text>
<text class="tw" x="418.4" y="416.9">82.31%</text>
<text class="tw" x="437.5" y="416.9">85.42%</text>
<text class="tw" x="456.5" y="416.9">80.37%</text>
<text class="tw" x="475.6" y="416.9">79.42%</text>
</g>
<path d="M122.82 291.75V421.75M141.89 291.75V421.75M160.96 291.75V421.75M180.03 291.75V421.75M199.10 291.75V421.75M218.17 291.75V421.75M237.24 291.75V421.75M256.31 291.75V421.75M275.38 291.75V421.75M294.45 291.75V421.75M313.52 291.75V421.75M332.59 291.75V421.75M351.66 291.75V421.75M370.73 291.75V421.75M389.80 291.75V421.75M408.87 291.75V421.75M427.94 291.75V421.75M447.01 291.75V421.75M466.08 291.75V421.75M103.75 304.75H485.15M103.75 317.75H485.15M103.75 330.75H485.15M103.75 343.75H485.15M103.75 356.75H485.15M103.75 369.75H485.15M103.75 382.75H485.15M103.75 395.75H485.15M103.75 408.75H485.15" fill="none" stroke="#3a3a50" stroke-opacity="0.10" stroke-width="0.6"/>
<line x1="11.30" y1="293.80" x2="11.30" y2="404.80" stroke="#231f20" stroke-width="1.0" />
<line x1="11.30" y1="413.40" x2="11.30" y2="420.20" stroke="#231f20" stroke-width="1.0" />
<text transform="translate(8.70 351.00) rotate(-90)" font-size="9.3" fill="#231f20" stroke="#231f20" stroke-width="0.2" text-anchor="middle" textLength="21" lengthAdjust="spacingAndGlyphs" >Indels</text>
<text transform="translate(8.10 417.00) rotate(-90)" font-size="8.4" fill="#231f20" stroke="#231f20" stroke-width="0.2" text-anchor="middle" textLength="9" lengthAdjust="spacingAndGlyphs" >WT</text>
<polygon points="56.70,420.80 54.60,427.30 58.80,427.30" fill="#e0202a" />
<line x1="70.20" y1="420.40" x2="83.80" y2="420.40" stroke="#231f20" stroke-width="0.8" />
<text x="77.20" y="426.40" font-size="6" fill="#231f20" stroke="#231f20" stroke-width="0.05" text-anchor="middle" >PAM</text>
<text x="56.10" y="435.80" font-size="8" fill="#231f20" stroke="#231f20" stroke-width="0.15" text-anchor="middle" textLength="34.7" lengthAdjust="spacingAndGlyphs" >Expected</text>
<text x="56.20" y="445.70" font-size="8" fill="#231f20" stroke="#231f20" stroke-width="0.15" text-anchor="middle" textLength="25.6" lengthAdjust="spacingAndGlyphs" >cut site</text>
<text transform="translate(116.78 426.40) rotate(-90) scale(0.885 1)" font-size="9" fill="#231f20" stroke="#231f20" stroke-width="0.05" text-anchor="end" >Precut</text>
<text transform="translate(135.85 426.40) rotate(-90) scale(0.885 1)" font-size="9" fill="#231f20" stroke="#231f20" stroke-width="0.05" text-anchor="end" >IP</text>
<text transform="translate(154.92 426.40) rotate(-90) scale(0.885 1)" font-size="9" fill="#231f20" stroke="#231f20" stroke-width="0.05" text-anchor="end" >1 m</text>
<text transform="translate(174.00 426.40) rotate(-90) scale(0.885 1)" font-size="9" fill="#231f20" stroke="#231f20" stroke-width="0.05" text-anchor="end" >2 m</text>
<text transform="translate(193.06 426.40) rotate(-90) scale(0.885 1)" font-size="9" fill="#231f20" stroke="#231f20" stroke-width="0.05" text-anchor="end" >3 m</text>
<text transform="translate(212.13 426.40) rotate(-90) scale(0.885 1)" font-size="9" fill="#231f20" stroke="#231f20" stroke-width="0.05" text-anchor="end" >4 m</text>
<text transform="translate(231.21 426.40) rotate(-90) scale(0.885 1)" font-size="9" fill="#231f20" stroke="#231f20" stroke-width="0.05" text-anchor="end" >6 m</text>
<text transform="translate(250.28 426.40) rotate(-90) scale(0.885 1)" font-size="9" fill="#231f20" stroke="#231f20" stroke-width="0.05" text-anchor="end" >7 m</text>
<text transform="translate(269.35 426.40) rotate(-90) scale(0.885 1)" font-size="9" fill="#231f20" stroke="#231f20" stroke-width="0.05" text-anchor="end" >9 m</text>
<text transform="translate(288.42 426.40) rotate(-90) scale(0.885 1)" font-size="9" fill="#231f20" stroke="#231f20" stroke-width="0.05" text-anchor="end" >11 m</text>
<text transform="translate(307.49 426.40) rotate(-90) scale(0.885 1)" font-size="9" fill="#231f20" stroke="#231f20" stroke-width="0.05" text-anchor="end" >12 m</text>
<text transform="translate(326.56 426.40) rotate(-90) scale(0.885 1)" font-size="9" fill="#2a6aa8" stroke="#2a6aa8" stroke-width="0.05" text-anchor="end" >13 m</text>
<text transform="translate(345.63 426.40) rotate(-90) scale(0.885 1)" font-size="9" fill="#2a6aa8" stroke="#2a6aa8" stroke-width="0.05" text-anchor="end" >13.5 m</text>
<text transform="translate(364.69 426.40) rotate(-90) scale(0.885 1)" font-size="9" fill="#2a6aa8" stroke="#2a6aa8" stroke-width="0.05" text-anchor="end" >14 m</text>
<text transform="translate(383.77 426.40) rotate(-90) scale(0.885 1)" font-size="9" fill="#2a6aa8" stroke="#2a6aa8" stroke-width="0.05" text-anchor="end" >14.5 m</text>
<text transform="translate(402.84 426.40) rotate(-90) scale(0.885 1)" font-size="9" fill="#2a6aa8" stroke="#2a6aa8" stroke-width="0.05" text-anchor="end" >15 m</text>
<text transform="translate(421.91 426.40) rotate(-90) scale(0.885 1)" font-size="9" fill="#2a6aa8" stroke="#2a6aa8" stroke-width="0.05" text-anchor="end" >16 m</text>
<text transform="translate(440.98 426.40) rotate(-90) scale(0.885 1)" font-size="9" fill="#2a6aa8" stroke="#2a6aa8" stroke-width="0.05" text-anchor="end" >17 m</text>
<text transform="translate(460.05 426.40) rotate(-90) scale(0.885 1)" font-size="9" fill="#231f20" stroke="#231f20" stroke-width="0.05" text-anchor="end" >18 m</text>
<text transform="translate(479.12 426.40) rotate(-90) scale(0.885 1)" font-size="9" fill="#231f20" stroke="#231f20" stroke-width="0.05" text-anchor="end" >19 m</text>
<line x1="140.00" y1="453.00" x2="483.00" y2="453.00" stroke="#231f20" stroke-width="1.3" />
<text x="311.70" y="465.50" font-size="9.5" fill="#231f20" stroke="#231f20" stroke-width="0.2" text-anchor="middle" textLength="44.3" lengthAdjust="spacingAndGlyphs" >Granulocytes</text>
<line x1="313.72" y1="286.00" x2="313.72" y2="450.00" stroke="#1a1a1a" stroke-width="0.65" stroke-dasharray="1.1 0.8"/>
<line x1="447.21" y1="286.00" x2="447.21" y2="450.00" stroke="#1a1a1a" stroke-width="0.65" stroke-dasharray="1.1 0.8"/>
<line x1="315.52" y1="288.60" x2="445.01" y2="288.60" stroke="#1b4f80" stroke-width="1.1" />
<polygon points="313.52,288.60 317.52,286.50 317.52,290.70" fill="#1b4f80" />
<polygon points="447.01,288.60 443.01,286.50 443.01,290.70" fill="#1b4f80" />
<defs><linearGradient id="cb" x1="0" y1="0" x2="0" y2="1">
<stop offset="0" stop-color="#8e0d0d"/><stop offset="0.06" stop-color="#b31f1c"/><stop offset="0.16" stop-color="#e0503a"/>
<stop offset="0.23" stop-color="#f6a468"/><stop offset="0.30" stop-color="#fdf0b0"/><stop offset="0.37" stop-color="#e2efe2"/>
<stop offset="0.44" stop-color="#c6deee"/><stop offset="0.62" stop-color="#9dbfe2"/><stop offset="0.85" stop-color="#6c98d0"/><stop offset="1" stop-color="#4d7fc2"/>
</linearGradient></defs>
<rect x="488.50" y="299.20" width="5.50" height="107.80" fill="url(#cb)" />
<text x="488.30" y="297.00" font-size="6.3" fill="#231f20" >Size</text>
<text x="496.20" y="304.20" font-size="5.5" fill="#333" >100%</text>
<text x="496.20" y="319.20" font-size="5.5" fill="#333" >10%</text>
<text x="496.20" y="333.40" font-size="5.5" fill="#333" >1%</text>
<text x="496.20" y="348.20" font-size="5.5" fill="#333" >0.1%</text>
<text x="496.20" y="400.30" font-size="5.5" fill="#333" >0.0025%</text>
<text x="496.20" y="406.80" font-size="5.5" fill="#333" >Defined 0</text>
</g>
<g id="panel-e">
<text x="1.60" y="492.60" font-size="11.4" fill="#111" stroke="#111" stroke-width="0.4" font-weight="bold" textLength="7.3" lengthAdjust="spacingAndGlyphs" >E</text>
<rect x="39.80" y="530.49" width="15.60" height="56.51" fill="#c8102e" />
<text x="47.60" y="527.49" font-size="7.3" fill="#231f20" stroke="#231f20" stroke-width="0.14" text-anchor="middle" >24.2</text>
<rect x="55.40" y="587.00" width="15.60" height="20.55" fill="#1b4f8b" />
<text x="63.20" y="584.20" font-size="7.3" fill="#231f20" stroke="#231f20" stroke-width="0.14" text-anchor="middle" >–8.8</text>
<rect x="71.00" y="546.84" width="15.60" height="40.16" fill="#3cb54a" />
<text x="78.80" y="543.84" font-size="7.3" fill="#231f20" stroke="#231f20" stroke-width="0.14" text-anchor="middle" >17.2</text>
<line x1="31.20" y1="512.50" x2="31.20" y2="611.00" stroke="#111" stroke-width="1.25" />
<line x1="30.60" y1="610.35" x2="98.70" y2="610.35" stroke="#111" stroke-width="1.25" />
<line x1="31.20" y1="587.00" x2="94.50" y2="587.00" stroke="#111" stroke-width="1.25" />
<line x1="28.00" y1="516.95" x2="31.20" y2="516.95" stroke="#111" stroke-width="1.0" />
<text x="25.60" y="519.85" font-size="8.2" fill="#231f20" stroke="#231f20" stroke-width="0.2" text-anchor="end" >30</text>
<line x1="28.00" y1="540.30" x2="31.20" y2="540.30" stroke="#111" stroke-width="1.0" />
<text x="25.60" y="543.20" font-size="8.2" fill="#231f20" stroke="#231f20" stroke-width="0.2" text-anchor="end" >20</text>
<line x1="28.00" y1="563.65" x2="31.20" y2="563.65" stroke="#111" stroke-width="1.0" />
<text x="25.60" y="566.55" font-size="8.2" fill="#231f20" stroke="#231f20" stroke-width="0.2" text-anchor="end" >10</text>
<line x1="28.00" y1="587.00" x2="31.20" y2="587.00" stroke="#111" stroke-width="1.0" />
<text x="25.60" y="589.90" font-size="8.2" fill="#231f20" stroke="#231f20" stroke-width="0.2" text-anchor="end" >0</text>
<line x1="28.00" y1="610.35" x2="31.20" y2="610.35" stroke="#111" stroke-width="1.0" />
<text x="25.60" y="613.25" font-size="8.2" fill="#231f20" stroke="#231f20" stroke-width="0.2" text-anchor="end" >–10</text>
<line x1="47.20" y1="610.30" x2="47.20" y2="614.00" stroke="#111" stroke-width="1.0" />
<line x1="62.80" y1="610.30" x2="62.80" y2="614.00" stroke="#111" stroke-width="1.0" />
<line x1="78.40" y1="610.30" x2="78.40" y2="614.00" stroke="#111" stroke-width="1.0" />
<line x1="94.00" y1="610.30" x2="94.00" y2="614.00" stroke="#111" stroke-width="1.0" />
<text x="64.40" y="505.80" font-size="9.2" fill="#231f20" stroke="#231f20" stroke-width="0.14" text-anchor="middle" textLength="48.7" lengthAdjust="spacingAndGlyphs" >ZH63 TET2</text>
<rect x="133.10" y="572.76" width="15.60" height="14.24" fill="#c8102e" />
<text x="140.90" y="569.76" font-size="7.3" fill="#231f20" stroke="#231f20" stroke-width="0.14" text-anchor="middle" >6.1</text>
<rect x="148.70" y="579.53" width="15.60" height="7.47" fill="#1b4f8b" />
<text x="156.50" y="576.53" font-size="7.3" fill="#231f20" stroke="#231f20" stroke-width="0.14" text-anchor="middle" >3.2</text>
<rect x="164.30" y="550.34" width="15.60" height="36.66" fill="#3cb54a" />
<text x="172.10" y="547.34" font-size="7.3" fill="#231f20" stroke="#231f20" stroke-width="0.14" text-anchor="middle" >15.7</text>
<line x1="125.00" y1="512.50" x2="125.00" y2="611.00" stroke="#111" stroke-width="1.25" />
<line x1="124.40" y1="610.35" x2="192.50" y2="610.35" stroke="#111" stroke-width="1.25" />
<line x1="125.00" y1="587.00" x2="188.30" y2="587.00" stroke="#111" stroke-width="1.25" />
<line x1="121.80" y1="516.95" x2="125.00" y2="516.95" stroke="#111" stroke-width="1.0" />
<text x="119.40" y="519.85" font-size="8.2" fill="#231f20" stroke="#231f20" stroke-width="0.2" text-anchor="end" >30</text>
<line x1="121.80" y1="540.30" x2="125.00" y2="540.30" stroke="#111" stroke-width="1.0" />
<text x="119.40" y="543.20" font-size="8.2" fill="#231f20" stroke="#231f20" stroke-width="0.2" text-anchor="end" >20</text>
<line x1="121.80" y1="563.65" x2="125.00" y2="563.65" stroke="#111" stroke-width="1.0" />
<text x="119.40" y="566.55" font-size="8.2" fill="#231f20" stroke="#231f20" stroke-width="0.2" text-anchor="end" >10</text>
<line x1="121.80" y1="587.00" x2="125.00" y2="587.00" stroke="#111" stroke-width="1.0" />
<text x="119.40" y="589.90" font-size="8.2" fill="#231f20" stroke="#231f20" stroke-width="0.2" text-anchor="end" >0</text>
<line x1="121.80" y1="610.35" x2="125.00" y2="610.35" stroke="#111" stroke-width="1.0" />
<text x="119.40" y="613.25" font-size="8.2" fill="#231f20" stroke="#231f20" stroke-width="0.2" text-anchor="end" >–10</text>
<line x1="141.00" y1="610.30" x2="141.00" y2="614.00" stroke="#111" stroke-width="1.0" />
<line x1="156.60" y1="610.30" x2="156.60" y2="614.00" stroke="#111" stroke-width="1.0" />
<line x1="172.20" y1="610.30" x2="172.20" y2="614.00" stroke="#111" stroke-width="1.0" />
<line x1="187.80" y1="610.30" x2="187.80" y2="614.00" stroke="#111" stroke-width="1.0" />
<text x="158.30" y="505.80" font-size="9.2" fill="#231f20" stroke="#231f20" stroke-width="0.14" text-anchor="middle" textLength="46.8" lengthAdjust="spacingAndGlyphs" >ZL39 TET2</text>
<rect x="225.10" y="569.95" width="15.60" height="17.05" fill="#c8102e" />
<text x="232.90" y="566.95" font-size="7.3" fill="#231f20" stroke="#231f20" stroke-width="0.14" text-anchor="middle" >7.3</text>
<rect x="240.70" y="570.89" width="15.60" height="16.11" fill="#1b4f8b" />
<text x="248.50" y="567.89" font-size="7.3" fill="#231f20" stroke="#231f20" stroke-width="0.14" text-anchor="middle" >6.9</text>
<rect x="256.30" y="565.99" width="15.60" height="21.02" fill="#3cb54a" />
<text x="264.10" y="562.99" font-size="7.3" fill="#231f20" stroke="#231f20" stroke-width="0.14" text-anchor="middle" >9.0</text>
<line x1="217.50" y1="512.50" x2="217.50" y2="611.00" stroke="#111" stroke-width="1.25" />
<line x1="216.90" y1="610.35" x2="285.00" y2="610.35" stroke="#111" stroke-width="1.25" />
<line x1="217.50" y1="587.00" x2="280.80" y2="587.00" stroke="#111" stroke-width="1.25" />
<line x1="214.30" y1="516.95" x2="217.50" y2="516.95" stroke="#111" stroke-width="1.0" />
<text x="211.90" y="519.85" font-size="8.2" fill="#231f20" stroke="#231f20" stroke-width="0.2" text-anchor="end" >30</text>
<line x1="214.30" y1="540.30" x2="217.50" y2="540.30" stroke="#111" stroke-width="1.0" />
<text x="211.90" y="543.20" font-size="8.2" fill="#231f20" stroke="#231f20" stroke-width="0.2" text-anchor="end" >20</text>
<line x1="214.30" y1="563.65" x2="217.50" y2="563.65" stroke="#111" stroke-width="1.0" />
<text x="211.90" y="566.55" font-size="8.2" fill="#231f20" stroke="#231f20" stroke-width="0.2" text-anchor="end" >10</text>
<line x1="214.30" y1="587.00" x2="217.50" y2="587.00" stroke="#111" stroke-width="1.0" />
<text x="211.90" y="589.90" font-size="8.2" fill="#231f20" stroke="#231f20" stroke-width="0.2" text-anchor="end" >0</text>
<line x1="214.30" y1="610.35" x2="217.50" y2="610.35" stroke="#111" stroke-width="1.0" />
<text x="211.90" y="613.25" font-size="8.2" fill="#231f20" stroke="#231f20" stroke-width="0.2" text-anchor="end" >–10</text>
<line x1="233.50" y1="610.30" x2="233.50" y2="614.00" stroke="#111" stroke-width="1.0" />
<line x1="249.10" y1="610.30" x2="249.10" y2="614.00" stroke="#111" stroke-width="1.0" />
<line x1="264.70" y1="610.30" x2="264.70" y2="614.00" stroke="#111" stroke-width="1.0" />
<line x1="280.30" y1="610.30" x2="280.30" y2="614.00" stroke="#111" stroke-width="1.0" />
<text x="250.60" y="505.80" font-size="9.2" fill="#231f20" stroke="#231f20" stroke-width="0.14" text-anchor="middle" textLength="66" lengthAdjust="spacingAndGlyphs" >ZL39 DNMT3A</text>
<rect x="317.50" y="575.09" width="15.60" height="11.91" fill="#c8102e" />
<text x="325.30" y="572.09" font-size="7.3" fill="#231f20" stroke="#231f20" stroke-width="0.14" text-anchor="middle" >5.1</text>
<rect x="333.10" y="577.43" width="15.60" height="9.57" fill="#1b4f8b" />
<text x="340.90" y="574.43" font-size="7.3" fill="#231f20" stroke="#231f20" stroke-width="0.14" text-anchor="middle" >4.1</text>
<rect x="348.70" y="564.12" width="15.60" height="22.88" fill="#3cb54a" />
<text x="356.50" y="561.12" font-size="7.3" fill="#231f20" stroke="#231f20" stroke-width="0.14" text-anchor="middle" >9.8</text>
<line x1="309.50" y1="512.50" x2="309.50" y2="611.00" stroke="#111" stroke-width="1.25" />
<line x1="308.90" y1="610.35" x2="377.00" y2="610.35" stroke="#111" stroke-width="1.25" />
<line x1="309.50" y1="587.00" x2="372.80" y2="587.00" stroke="#111" stroke-width="1.25" />
<line x1="306.30" y1="516.95" x2="309.50" y2="516.95" stroke="#111" stroke-width="1.0" />
<text x="303.90" y="519.85" font-size="8.2" fill="#231f20" stroke="#231f20" stroke-width="0.2" text-anchor="end" >30</text>
<line x1="306.30" y1="540.30" x2="309.50" y2="540.30" stroke="#111" stroke-width="1.0" />
<text x="303.90" y="543.20" font-size="8.2" fill="#231f20" stroke="#231f20" stroke-width="0.2" text-anchor="end" >20</text>
<line x1="306.30" y1="563.65" x2="309.50" y2="563.65" stroke="#111" stroke-width="1.0" />
<text x="303.90" y="566.55" font-size="8.2" fill="#231f20" stroke="#231f20" stroke-width="0.2" text-anchor="end" >10</text>
<line x1="306.30" y1="587.00" x2="309.50" y2="587.00" stroke="#111" stroke-width="1.0" />
<text x="303.90" y="589.90" font-size="8.2" fill="#231f20" stroke="#231f20" stroke-width="0.2" text-anchor="end" >0</text>
<line x1="306.30" y1="610.35" x2="309.50" y2="610.35" stroke="#111" stroke-width="1.0" />
<text x="303.90" y="613.25" font-size="8.2" fill="#231f20" stroke="#231f20" stroke-width="0.2" text-anchor="end" >–10</text>
<line x1="325.50" y1="610.30" x2="325.50" y2="614.00" stroke="#111" stroke-width="1.0" />
<line x1="341.10" y1="610.30" x2="341.10" y2="614.00" stroke="#111" stroke-width="1.0" />
<line x1="356.70" y1="610.30" x2="356.70" y2="614.00" stroke="#111" stroke-width="1.0" />
<line x1="372.30" y1="610.30" x2="372.30" y2="614.00" stroke="#111" stroke-width="1.0" />
<text x="342.60" y="505.80" font-size="9.2" fill="#231f20" stroke="#231f20" stroke-width="0.14" text-anchor="middle" textLength="46.3" lengthAdjust="spacingAndGlyphs" >ZL26 TET2</text>
<text transform="translate(8.80 560.50) rotate(-90)" font-size="9.8" fill="#231f20" stroke="#231f20" stroke-width="0.25" text-anchor="middle" textLength="91" lengthAdjust="spacingAndGlyphs" >Growth rate (% per month)</text>
<rect x="393.60" y="522.40" width="5.20" height="5.20" fill="#c8102e" />
<text x="402.00" y="527.70" font-size="7.8" fill="#231f20" stroke="#231f20" stroke-width="0.14" textLength="28" lengthAdjust="spacingAndGlyphs" >Pre-TCZ</text>
<text x="402.00" y="536.70" font-size="7.8" fill="#231f20" stroke="#231f20" stroke-width="0.14" textLength="105.5" lengthAdjust="spacingAndGlyphs" >(from 6–9 mon post-transplant)</text>
<rect x="393.60" y="544.35" width="5.20" height="5.20" fill="#1b4f8b" />
<text x="402.00" y="549.65" font-size="7.8" fill="#231f20" stroke="#231f20" stroke-width="0.14" textLength="39.3" lengthAdjust="spacingAndGlyphs" >During TCZ</text>
<text x="402.00" y="558.65" font-size="7.8" fill="#231f20" stroke="#231f20" stroke-width="0.14" textLength="37.5" lengthAdjust="spacingAndGlyphs" >(for 4 mon)</text>
<rect x="393.60" y="566.30" width="5.20" height="5.20" fill="#3cb54a" />
<text x="402.00" y="571.60" font-size="7.8" fill="#231f20" stroke="#231f20" stroke-width="0.14" textLength="33.5" lengthAdjust="spacingAndGlyphs" >After-TCZ</text>
<text x="402.00" y="580.60" font-size="7.8" fill="#231f20" stroke="#231f20" stroke-width="0.14" textLength="116.8" lengthAdjust="spacingAndGlyphs" >(up to 2 mon post-discontinuation)</text>
</g>
</svg>
</body>
</html>
